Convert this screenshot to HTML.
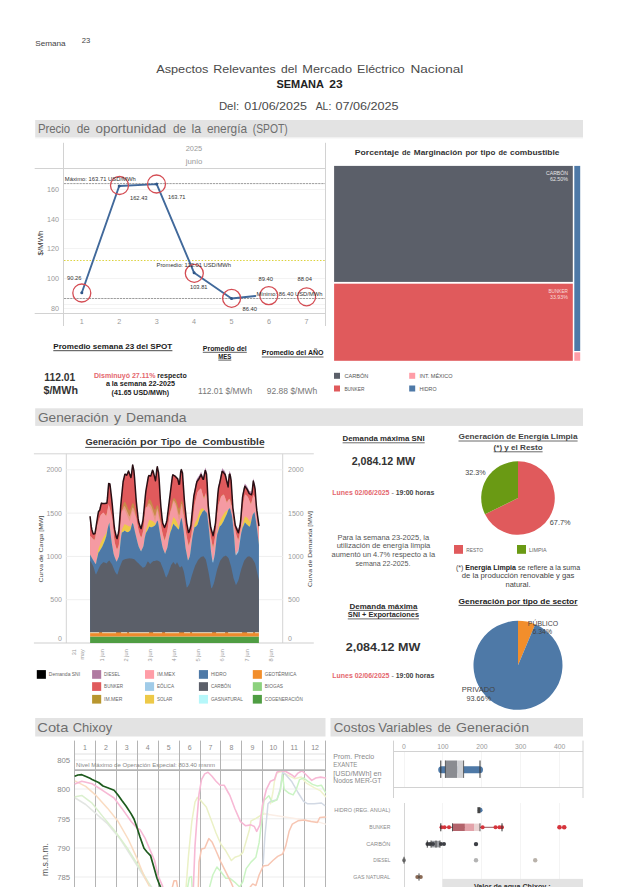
<!DOCTYPE html>
<html><head><meta charset="utf-8"><title>Semana 23</title>
<style>
html,body{margin:0;padding:0;background:#fff;}
body{width:618px;height:887px;overflow:hidden;font-family:"Liberation Sans", sans-serif;}
svg{display:block;font-family:"Liberation Sans", sans-serif;}
</style></head><body>
<svg width="618" height="887" viewBox="0 0 618 887">
<rect x="0" y="0" width="618" height="887" fill="#ffffff"/>
<text x="35.2" y="45.5" font-size="6.8" fill="#444" textLength="30.5" lengthAdjust="spacingAndGlyphs">Semana</text>
<text x="81.8" y="43.0" font-size="7" fill="#444" textLength="8.5" lengthAdjust="spacingAndGlyphs">23</text>
<text x="156.2" y="72.7" font-size="11.4" fill="#4a4a4a" textLength="52.3" lengthAdjust="spacingAndGlyphs">Aspectos</text>
<text x="213.2" y="72.7" font-size="11.4" fill="#4a4a4a" textLength="62.6" lengthAdjust="spacingAndGlyphs">Relevantes</text>
<text x="281.0" y="72.7" font-size="11.4" fill="#4a4a4a" textLength="16.1" lengthAdjust="spacingAndGlyphs">del</text>
<text x="302.3" y="72.7" font-size="11.4" fill="#4a4a4a" textLength="49.7" lengthAdjust="spacingAndGlyphs">Mercado</text>
<text x="357.1" y="72.7" font-size="11.4" fill="#4a4a4a" textLength="47.7" lengthAdjust="spacingAndGlyphs">Eléctrico</text>
<text x="410.5" y="72.7" font-size="11.4" fill="#4a4a4a" textLength="52.8" lengthAdjust="spacingAndGlyphs">Nacional</text>
<text x="276.4" y="88.0" font-size="11" fill="#222" font-weight="bold" textLength="47.6" lengthAdjust="spacingAndGlyphs">SEMANA</text>
<text x="329.2" y="88.0" font-size="11" fill="#222" font-weight="bold" textLength="13.4" lengthAdjust="spacingAndGlyphs">23</text>
<text x="218.9" y="110.0" font-size="11.4" fill="#4a4a4a" textLength="20.2" lengthAdjust="spacingAndGlyphs">Del:</text>
<text x="244.3" y="110.0" font-size="11.4" fill="#4a4a4a" textLength="62.6" lengthAdjust="spacingAndGlyphs">01/06/2025</text>
<text x="315.7" y="110.0" font-size="11.4" fill="#4a4a4a" textLength="15.6" lengthAdjust="spacingAndGlyphs">AL:</text>
<text x="335.4" y="110.0" font-size="11.4" fill="#4a4a4a" textLength="63.2" lengthAdjust="spacingAndGlyphs">07/06/2025</text>
<rect x="35.2" y="120.0" width="547.8" height="17.2" fill="#e3e3e3"/>
<rect x="35.2" y="137.2" width="547.8" height="1.2" fill="#efefef"/>
<text x="37.9" y="133.0" font-size="12.2" fill="#6e6e6e" textLength="32.3" lengthAdjust="spacingAndGlyphs">Precio</text>
<text x="76.7" y="133.0" font-size="12.2" fill="#6e6e6e" textLength="13.2" lengthAdjust="spacingAndGlyphs">de</text>
<text x="95.5" y="133.0" font-size="12.2" fill="#6e6e6e" textLength="70.8" lengthAdjust="spacingAndGlyphs">oportunidad</text>
<text x="172.9" y="133.0" font-size="12.2" fill="#6e6e6e" textLength="13.1" lengthAdjust="spacingAndGlyphs">de</text>
<text x="191.6" y="133.0" font-size="12.2" fill="#6e6e6e" textLength="9.7" lengthAdjust="spacingAndGlyphs">la</text>
<text x="206.9" y="133.0" font-size="12.2" fill="#6e6e6e" textLength="40.2" lengthAdjust="spacingAndGlyphs">energía</text>
<text x="252.8" y="133.0" font-size="12.2" fill="#6e6e6e" textLength="35.0" lengthAdjust="spacingAndGlyphs">(SPOT)</text>
<line x1="63.5" y1="142.8" x2="63.5" y2="326.0" stroke="#d2d2d2" stroke-width="1"/>
<line x1="325.5" y1="142.8" x2="325.5" y2="326.0" stroke="#d2d2d2" stroke-width="1"/>
<line x1="34.7" y1="168.5" x2="325.5" y2="168.5" stroke="#d2d2d2" stroke-width="1"/>
<line x1="34.7" y1="313.5" x2="325.5" y2="313.5" stroke="#d2d2d2" stroke-width="1"/>
<text x="194.0" y="151.0" font-size="6.6" fill="#9a9a9a" text-anchor="middle" textLength="16.5" lengthAdjust="spacingAndGlyphs">2025</text>
<text x="194.0" y="163.8" font-size="6.6" fill="#9a9a9a" text-anchor="middle" textLength="16.5" lengthAdjust="spacingAndGlyphs">junio</text>
<line x1="64.0" y1="189.5" x2="325.0" y2="189.5" stroke="#f3f3f3" stroke-width="1"/>
<text x="59.0" y="192.2" font-size="7.2" fill="#9a9a9a" text-anchor="end">160</text>
<line x1="64.0" y1="219.5" x2="325.0" y2="219.5" stroke="#f3f3f3" stroke-width="1"/>
<text x="59.0" y="221.8" font-size="7.2" fill="#9a9a9a" text-anchor="end">140</text>
<line x1="64.0" y1="248.5" x2="325.0" y2="248.5" stroke="#f3f3f3" stroke-width="1"/>
<text x="59.0" y="251.4" font-size="7.2" fill="#9a9a9a" text-anchor="end">120</text>
<line x1="64.0" y1="278.5" x2="325.0" y2="278.5" stroke="#f3f3f3" stroke-width="1"/>
<text x="59.0" y="281.0" font-size="7.2" fill="#9a9a9a" text-anchor="end">100</text>
<line x1="64.0" y1="308.5" x2="325.0" y2="308.5" stroke="#f3f3f3" stroke-width="1"/>
<text x="59.0" y="310.6" font-size="7.2" fill="#9a9a9a" text-anchor="end">80</text>
<line x1="64.0" y1="304.5" x2="325.0" y2="304.5" stroke="#f3f3f3" stroke-width="1"/>
<text x="0.0" y="0.0" font-size="7.8" fill="#333" text-anchor="middle" textLength="25.0" lengthAdjust="spacingAndGlyphs" transform="translate(43.3,243) rotate(-90)">$/MWh</text>
<text x="81.8" y="323.6" font-size="7.2" fill="#9a9a9a" text-anchor="middle">1</text>
<text x="119.2" y="323.6" font-size="7.2" fill="#9a9a9a" text-anchor="middle">2</text>
<text x="156.7" y="323.6" font-size="7.2" fill="#9a9a9a" text-anchor="middle">3</text>
<text x="194.1" y="323.6" font-size="7.2" fill="#9a9a9a" text-anchor="middle">4</text>
<text x="231.5" y="323.6" font-size="7.2" fill="#9a9a9a" text-anchor="middle">5</text>
<text x="268.9" y="323.6" font-size="7.2" fill="#9a9a9a" text-anchor="middle">6</text>
<text x="306.4" y="323.6" font-size="7.2" fill="#9a9a9a" text-anchor="middle">7</text>
<line x1="64.0" y1="183.6" x2="325.0" y2="183.6" stroke="#5a5a5a" stroke-width="0.6" stroke-dasharray="2.3,0.8"/>
<line x1="64.0" y1="298.5" x2="325.0" y2="298.5" stroke="#5a5a5a" stroke-width="0.6" stroke-dasharray="2.3,0.8"/>
<line x1="64.0" y1="260.5" x2="325.0" y2="260.5" stroke="#dcd23c" stroke-width="1.0" stroke-dasharray="1.5,1.7"/>
<polyline points="81.8,292.8 119.2,186.0 156.7,184.1 194.1,272.8 231.5,298.5 255.4,296.0" fill="none" stroke="#41699b" stroke-width="1.9" stroke-linejoin="round" stroke-linecap="round"/>
<circle cx="81.8" cy="292.8" r="1.5" fill="#2f5688"/>
<circle cx="119.2" cy="186.0" r="1.5" fill="#2f5688"/>
<circle cx="156.7" cy="184.1" r="1.5" fill="#2f5688"/>
<circle cx="194.1" cy="272.8" r="1.5" fill="#2f5688"/>
<circle cx="231.5" cy="298.5" r="1.5" fill="#2f5688"/>
<circle cx="81.8" cy="293.0" r="9" fill="none" stroke="#d44c53" stroke-width="1.3"/>
<circle cx="119.5" cy="185.5" r="9" fill="none" stroke="#d44c53" stroke-width="1.3"/>
<circle cx="156.5" cy="184.0" r="9" fill="none" stroke="#d44c53" stroke-width="1.3"/>
<circle cx="194.3" cy="273.3" r="9" fill="none" stroke="#d44c53" stroke-width="1.3"/>
<circle cx="231.6" cy="298.3" r="9" fill="none" stroke="#d44c53" stroke-width="1.3"/>
<circle cx="268.8" cy="295.6" r="9" fill="none" stroke="#d44c53" stroke-width="1.3"/>
<circle cx="306.6" cy="296.8" r="9" fill="none" stroke="#d44c53" stroke-width="1.3"/>
<text x="64.8" y="180.8" font-size="5.2" fill="#333" textLength="71.0" lengthAdjust="spacingAndGlyphs">Máximo: 163.71 USD/MWh</text>
<text x="156.5" y="267.3" font-size="5.2" fill="#333" textLength="74.5" lengthAdjust="spacingAndGlyphs">Promedio: 112.01 USD/MWh</text>
<text x="256.5" y="295.5" font-size="5.2" fill="#333" textLength="66.0" lengthAdjust="spacingAndGlyphs">Mínimo: 86.40 USD/MWh</text>
<text x="67.0" y="280.3" font-size="5.2" fill="#333" textLength="14.5" lengthAdjust="spacingAndGlyphs">90.26</text>
<text x="130.0" y="199.8" font-size="5.2" fill="#333" textLength="17.5" lengthAdjust="spacingAndGlyphs">162.43</text>
<text x="168.0" y="198.5" font-size="5.2" fill="#333" textLength="17.5" lengthAdjust="spacingAndGlyphs">163.71</text>
<text x="190.0" y="288.5" font-size="5.2" fill="#333" textLength="17.5" lengthAdjust="spacingAndGlyphs">103.81</text>
<text x="242.5" y="310.8" font-size="5.2" fill="#333" textLength="14.5" lengthAdjust="spacingAndGlyphs">86.40</text>
<text x="258.5" y="280.5" font-size="5.2" fill="#333" textLength="14.5" lengthAdjust="spacingAndGlyphs">89.40</text>
<text x="297.5" y="280.5" font-size="5.2" fill="#333" textLength="14.5" lengthAdjust="spacingAndGlyphs">88.04</text>
<text x="53.3" y="348.6" font-size="7.6" fill="#1a1a1a" font-weight="bold" textLength="119.0" lengthAdjust="spacingAndGlyphs">Promedio semana 23 del SPOT</text>
<line x1="53.3" y1="350.7" x2="172.4" y2="350.7" stroke="#1a1a1a" stroke-width="0.8"/>
<text x="59.8" y="381.0" font-size="10.4" fill="#333" text-anchor="middle" font-weight="bold" textLength="31.0" lengthAdjust="spacingAndGlyphs">112.01</text>
<text x="60.7" y="394.0" font-size="10.4" fill="#333" text-anchor="middle" font-weight="bold" textLength="34.5" lengthAdjust="spacingAndGlyphs">$/MWh</text>
<text x="94" y="378" font-size="6.3" font-weight="bold" textLength="92.7" lengthAdjust="spacingAndGlyphs"><tspan fill="#e4666d">Disminuyó 27.11%</tspan><tspan fill="#222"> respecto</tspan></text>
<text x="105.9" y="386.2" font-size="6.3" fill="#222" font-weight="bold" textLength="69.0" lengthAdjust="spacingAndGlyphs">a la semana 22-2025</text>
<text x="111.6" y="394.8" font-size="6.3" fill="#222" font-weight="bold" textLength="57.5" lengthAdjust="spacingAndGlyphs">(41.65 USD/MWh)</text>
<text x="224.8" y="350.7" font-size="6.6" fill="#1a1a1a" text-anchor="middle" font-weight="bold" textLength="44.0" lengthAdjust="spacingAndGlyphs">Promedio del</text>
<line x1="202.8" y1="352.3" x2="246.8" y2="352.3" stroke="#1a1a1a" stroke-width="0.7"/>
<text x="224.8" y="358.5" font-size="6.6" fill="#1a1a1a" text-anchor="middle" font-weight="bold" textLength="13.0" lengthAdjust="spacingAndGlyphs">MES</text>
<line x1="218.3" y1="360.1" x2="231.3" y2="360.1" stroke="#1a1a1a" stroke-width="0.7"/>
<text x="261.8" y="355.4" font-size="6.6" fill="#1a1a1a" font-weight="bold" textLength="61.7" lengthAdjust="spacingAndGlyphs">Promedio del AÑO</text>
<line x1="261.8" y1="357.0" x2="323.5" y2="357.0" stroke="#1a1a1a" stroke-width="0.7"/>
<text x="198.1" y="393.5" font-size="8.8" fill="#777" textLength="54.0" lengthAdjust="spacingAndGlyphs">112.01 $/MWh</text>
<text x="266.8" y="393.5" font-size="8.8" fill="#777" textLength="50.5" lengthAdjust="spacingAndGlyphs">92.88 $/MWh</text>
<text x="354.8" y="154.9" font-size="7.2" fill="#333" font-weight="bold" textLength="44.2" lengthAdjust="spacingAndGlyphs">Porcentaje</text>
<text x="402.1" y="154.9" font-size="7.2" fill="#333" font-weight="bold" textLength="8.6" lengthAdjust="spacingAndGlyphs">de</text>
<text x="413.8" y="154.9" font-size="7.2" fill="#333" font-weight="bold" textLength="48.5" lengthAdjust="spacingAndGlyphs">Marginación</text>
<text x="465.4" y="154.9" font-size="7.2" fill="#333" font-weight="bold" textLength="12.5" lengthAdjust="spacingAndGlyphs">por</text>
<text x="480.6" y="154.9" font-size="7.2" fill="#333" font-weight="bold" textLength="14.7" lengthAdjust="spacingAndGlyphs">tipo</text>
<text x="498.4" y="154.9" font-size="7.2" fill="#333" font-weight="bold" textLength="8.6" lengthAdjust="spacingAndGlyphs">de</text>
<text x="510.1" y="154.9" font-size="7.2" fill="#333" font-weight="bold" textLength="49.3" lengthAdjust="spacingAndGlyphs">combustible</text>
<rect x="334.1" y="165.9" width="238.7" height="116.0" fill="#5b5f69"/>
<rect x="334.1" y="283.7" width="238.7" height="77.1" fill="#e05a5c"/>
<rect x="574.3" y="165.9" width="5.9" height="185.1" fill="#4e79a7"/>
<rect x="574.3" y="352.3" width="5.9" height="8.5" fill="#ff9da7"/>
<text x="568.0" y="175.2" font-size="4.8" fill="#e6e6e6" text-anchor="end" textLength="22.0" lengthAdjust="spacingAndGlyphs">CARBÓN</text>
<text x="568.0" y="181.2" font-size="4.8" fill="#e6e6e6" text-anchor="end" textLength="18.0" lengthAdjust="spacingAndGlyphs">62.50%</text>
<text x="568.0" y="292.6" font-size="4.8" fill="#f9dada" text-anchor="end" textLength="19.5" lengthAdjust="spacingAndGlyphs">BUNKER</text>
<text x="568.0" y="298.9" font-size="4.8" fill="#f9dada" text-anchor="end" textLength="18.0" lengthAdjust="spacingAndGlyphs">33.93%</text>
<rect x="334.0" y="372.8" width="6.0" height="6.0" fill="#5b5f69"/>
<text x="344.4" y="378.0" font-size="5" fill="#555" textLength="24.0" lengthAdjust="spacingAndGlyphs">CARBÓN</text>
<rect x="334.0" y="385.5" width="6.0" height="6.0" fill="#e05a5c"/>
<text x="344.4" y="390.7" font-size="5" fill="#555" textLength="20.0" lengthAdjust="spacingAndGlyphs">BUNKER</text>
<rect x="409.2" y="372.8" width="6.0" height="6.0" fill="#ff9da7"/>
<text x="419.5" y="378.0" font-size="5" fill="#555" textLength="33.0" lengthAdjust="spacingAndGlyphs">INT. MÉXICO</text>
<rect x="409.2" y="385.5" width="6.0" height="6.0" fill="#4e79a7"/>
<text x="419.5" y="390.7" font-size="5" fill="#555" textLength="17.0" lengthAdjust="spacingAndGlyphs">HIDRO</text>
<rect x="35.2" y="408.3" width="547.8" height="17.6" fill="#e3e3e3"/>
<text x="37.9" y="422.0" font-size="12.2" fill="#6e6e6e" textLength="70.7" lengthAdjust="spacingAndGlyphs">Generación</text>
<text x="113.9" y="422.0" font-size="12.2" fill="#6e6e6e" textLength="7.0" lengthAdjust="spacingAndGlyphs">y</text>
<text x="126.1" y="422.0" font-size="12.2" fill="#6e6e6e" textLength="60.3" lengthAdjust="spacingAndGlyphs">Demanda</text>
<text x="85.5" y="445.3" font-size="9" fill="#333" font-weight="bold" textLength="51.1" lengthAdjust="spacingAndGlyphs">Generación</text>
<text x="140.1" y="445.3" font-size="9" fill="#333" font-weight="bold" textLength="17.5" lengthAdjust="spacingAndGlyphs">por</text>
<text x="161.1" y="445.3" font-size="9" fill="#333" font-weight="bold" textLength="19.6" lengthAdjust="spacingAndGlyphs">Tipo</text>
<text x="185.1" y="445.3" font-size="9" fill="#333" font-weight="bold" textLength="11.8" lengthAdjust="spacingAndGlyphs">de</text>
<text x="202.6" y="445.3" font-size="9" fill="#333" font-weight="bold" textLength="62.0" lengthAdjust="spacingAndGlyphs">Combustible</text>
<line x1="85.2" y1="447.4" x2="264.2" y2="447.4" stroke="#333" stroke-width="0.9"/>
<line x1="33.9" y1="453.8" x2="313.8" y2="453.8" stroke="#d4d4d4" stroke-width="1"/>
<line x1="66.3" y1="453.8" x2="66.3" y2="643.0" stroke="#d4d4d4" stroke-width="1"/>
<line x1="282.7" y1="453.8" x2="282.7" y2="643.0" stroke="#d4d4d4" stroke-width="1"/>
<line x1="33.9" y1="643.0" x2="313.8" y2="643.0" stroke="#cfcfcf" stroke-width="1"/>
<line x1="66.3" y1="599.7" x2="282.7" y2="599.7" stroke="#efefef" stroke-width="1"/>
<line x1="66.3" y1="556.4" x2="282.7" y2="556.4" stroke="#efefef" stroke-width="1"/>
<line x1="66.3" y1="513.1" x2="282.7" y2="513.1" stroke="#efefef" stroke-width="1"/>
<line x1="66.3" y1="469.8" x2="282.7" y2="469.8" stroke="#efefef" stroke-width="1"/>
<text x="62.0" y="472.4" font-size="7" fill="#9a9a9a" text-anchor="end">2000</text>
<text x="288.0" y="472.4" font-size="7" fill="#9a9a9a">2000</text>
<text x="62.0" y="515.7" font-size="7" fill="#9a9a9a" text-anchor="end">1500</text>
<text x="288.0" y="515.7" font-size="7" fill="#9a9a9a">1500</text>
<text x="62.0" y="559.0" font-size="7" fill="#9a9a9a" text-anchor="end">1000</text>
<text x="288.0" y="559.0" font-size="7" fill="#9a9a9a">1000</text>
<text x="62.0" y="602.3" font-size="7" fill="#9a9a9a" text-anchor="end">500</text>
<text x="288.0" y="602.3" font-size="7" fill="#9a9a9a">500</text>
<text x="62.0" y="641.0" font-size="7" fill="#9a9a9a" text-anchor="end">0</text>
<text x="288.0" y="641.0" font-size="7" fill="#9a9a9a">0</text>
<text x="0.0" y="0.0" font-size="6" fill="#444" text-anchor="middle" textLength="67.0" lengthAdjust="spacingAndGlyphs" transform="translate(43,549) rotate(-90)">Curva de Carga [MW]</text>
<text x="0.0" y="0.0" font-size="6" fill="#444" text-anchor="middle" textLength="76.0" lengthAdjust="spacingAndGlyphs" transform="translate(312,549) rotate(-90)">Curva de Demanda [MW]</text>
<polygon points="90.1,516.8 90.7,521.8 91.3,526.7 91.9,529.7 92.5,531.7 93.1,533.6 93.7,534.1 94.3,533.8 94.9,533.5 95.5,530.3 96.1,526.5 96.7,522.7 97.3,518.8 97.9,514.9 98.5,511.6 99.1,510.9 99.7,510.3 100.3,507.8 100.9,504.9 101.5,503.1 102.1,503.3 102.7,503.4 103.3,503.6 103.9,503.6 104.5,503.5 105.1,503.4 105.7,503.3 106.3,503.2 106.9,503.0 107.5,497.7 108.1,489.9 108.7,483.4 109.3,483.6 109.9,483.9 110.5,488.5 111.1,493.8 111.7,499.2 112.3,504.8 112.9,511.6 113.5,518.3 114.1,525.0 114.7,529.7 115.3,532.4 115.9,535.0 116.5,537.6 117.1,538.6 117.7,536.0 118.3,533.5 118.9,530.1 119.5,522.2 120.1,514.3 120.7,506.3 121.3,499.7 121.9,493.7 122.5,487.8 123.1,481.8 123.7,479.3 124.3,476.7 124.9,474.2 125.5,474.2 126.1,474.7 126.7,475.2 127.3,474.0 127.9,472.5 128.5,470.9 129.1,472.6 129.7,474.3 130.3,476.0 130.9,477.6 131.5,474.5 132.1,469.0 132.7,464.9 133.3,467.8 133.9,470.6 134.5,477.2 135.1,485.5 135.7,493.8 136.3,501.7 136.9,507.3 137.5,512.9 138.1,518.4 138.7,522.1 139.3,524.0 139.9,525.8 140.5,527.7 141.1,528.7 141.7,526.0 142.3,523.3 142.9,520.6 143.5,515.4 144.1,509.0 144.7,502.7 145.3,496.3 145.9,490.8 146.5,487.4 147.1,483.9 147.7,480.5 148.3,477.0 148.9,475.4 149.5,475.6 150.1,475.8 150.7,476.0 151.3,474.3 151.9,472.2 152.5,470.2 153.1,471.1 153.7,473.5 154.3,475.9 154.9,478.3 155.5,480.7 156.1,476.0 156.7,469.9 157.3,466.7 157.9,469.6 158.5,472.4 159.1,478.8 159.7,488.7 160.3,498.7 160.9,506.7 161.5,512.7 162.1,518.6 162.7,523.1 163.3,524.5 163.9,526.0 164.5,527.5 165.1,526.2 165.7,524.5 166.3,522.7 166.9,520.4 167.5,515.6 168.1,510.8 168.7,505.9 169.3,501.1 169.9,496.3 170.5,491.5 171.1,486.7 171.7,481.8 172.3,477.0 172.9,474.8 173.5,475.1 174.1,475.5 174.7,475.9 175.3,476.4 175.9,477.0 176.5,477.6 177.1,478.2 177.7,478.8 178.3,481.3 178.9,484.3 179.5,484.1 180.1,478.0 180.7,471.8 181.3,469.6 181.9,471.3 182.5,473.1 183.1,481.8 183.7,490.6 184.3,499.3 184.9,505.8 185.5,511.7 186.1,517.6 186.7,523.1 187.3,526.2 187.9,529.3 188.5,532.5 189.1,532.0 189.7,529.9 190.3,527.7 190.9,525.5 191.5,519.5 192.1,510.6 192.7,504.5 193.3,498.5 193.9,493.0 194.5,490.1 195.1,487.2 195.7,484.3 196.3,481.3 196.9,478.8 197.5,477.9 198.1,477.1 198.7,476.3 199.3,475.2 199.9,474.0 200.5,472.9 201.1,471.7 201.7,473.3 202.3,474.9 202.9,476.4 203.5,476.4 204.1,473.2 204.7,470.0 205.3,467.6 205.9,469.4 206.5,471.1 207.1,479.6 207.7,491.3 208.3,505.2 208.9,511.5 209.5,516.7 210.1,521.9 210.7,526.5 211.3,528.6 211.9,530.7 212.5,532.8 213.1,534.9 213.7,531.8 214.3,528.8 214.9,525.7 215.5,522.0 216.1,514.8 216.7,507.5 217.3,498.2 217.9,490.9 218.5,485.3 219.1,482.7 219.7,480.2 220.3,477.4 220.9,474.4 221.5,471.5 222.1,468.5 222.7,468.6 223.3,469.4 223.9,470.1 224.5,470.8 225.1,471.6 225.7,473.8 226.3,476.4 226.9,478.9 227.5,481.5 228.1,484.0 228.7,477.8 229.3,471.6 229.9,471.2 230.5,473.8 231.1,479.6 231.7,488.8 232.3,498.0 232.9,507.2 233.5,511.6 234.1,515.9 234.7,520.3 235.3,524.7 235.9,526.2 236.5,525.5 237.1,527.0 237.7,528.4 238.3,529.9 238.9,527.4 239.5,524.9 240.1,522.4 240.7,517.3 241.3,509.8 241.9,502.3 242.5,494.8 243.1,491.2 243.7,488.4 244.3,485.6 244.9,483.4 245.5,484.2 246.1,485.0 246.7,485.8 247.3,486.8 247.9,488.0 248.5,489.2 249.1,490.4 249.7,490.9 250.3,491.2 250.9,491.6 251.5,491.9 252.1,489.3 252.7,483.8 253.3,478.2 253.9,480.5 254.5,482.9 255.1,486.2 255.7,494.3 256.3,504.5 256.9,510.1 257.5,514.5 258.1,518.9 258.7,523.2 258.9,524.7 258.9,633.0 258.7,633.0 258.1,633.0 257.5,633.0 256.9,633.0 256.3,633.0 255.7,633.0 255.1,633.0 254.5,633.0 253.9,633.0 253.3,633.0 252.7,633.0 252.1,633.0 251.5,633.0 250.9,633.0 250.3,633.0 249.7,633.0 249.1,633.0 248.5,633.0 247.9,633.0 247.3,633.0 246.7,633.0 246.1,633.0 245.5,633.0 244.9,633.0 244.3,633.0 243.7,633.0 243.1,633.0 242.5,633.0 241.9,633.0 241.3,633.0 240.7,633.0 240.1,633.0 239.5,633.0 238.9,633.0 238.3,633.0 237.7,633.0 237.1,633.0 236.5,633.0 235.9,633.0 235.3,633.0 234.7,633.0 234.1,633.0 233.5,633.0 232.9,633.0 232.3,633.0 231.7,633.0 231.1,633.0 230.5,633.0 229.9,633.0 229.3,633.0 228.7,633.0 228.1,633.0 227.5,633.0 226.9,633.0 226.3,633.0 225.7,633.0 225.1,633.0 224.5,633.0 223.9,633.0 223.3,633.0 222.7,633.0 222.1,633.0 221.5,633.0 220.9,633.0 220.3,633.0 219.7,633.0 219.1,633.0 218.5,633.0 217.9,633.0 217.3,633.0 216.7,633.0 216.1,633.0 215.5,633.0 214.9,633.0 214.3,633.0 213.7,633.0 213.1,633.0 212.5,633.0 211.9,633.0 211.3,633.0 210.7,633.0 210.1,633.0 209.5,633.0 208.9,633.0 208.3,633.0 207.7,633.0 207.1,633.0 206.5,633.0 205.9,633.0 205.3,633.0 204.7,633.0 204.1,633.0 203.5,633.0 202.9,633.0 202.3,633.0 201.7,633.0 201.1,633.0 200.5,633.0 199.9,633.0 199.3,633.0 198.7,633.0 198.1,633.0 197.5,633.0 196.9,633.0 196.3,633.0 195.7,633.0 195.1,633.0 194.5,633.0 193.9,633.0 193.3,633.0 192.7,633.0 192.1,633.0 191.5,633.0 190.9,633.0 190.3,633.0 189.7,633.0 189.1,633.0 188.5,633.0 187.9,633.0 187.3,633.0 186.7,633.0 186.1,633.0 185.5,633.0 184.9,633.0 184.3,633.0 183.7,633.0 183.1,633.0 182.5,633.0 181.9,633.0 181.3,633.0 180.7,633.0 180.1,633.0 179.5,633.0 178.9,633.0 178.3,633.0 177.7,633.0 177.1,633.0 176.5,633.0 175.9,633.0 175.3,633.0 174.7,633.0 174.1,633.0 173.5,633.0 172.9,633.0 172.3,633.0 171.7,633.0 171.1,633.0 170.5,633.0 169.9,633.0 169.3,633.0 168.7,633.0 168.1,633.0 167.5,633.0 166.9,633.0 166.3,633.0 165.7,633.0 165.1,633.0 164.5,633.0 163.9,633.0 163.3,633.0 162.7,633.0 162.1,633.0 161.5,633.0 160.9,633.0 160.3,633.0 159.7,633.0 159.1,633.0 158.5,633.0 157.9,633.0 157.3,633.0 156.7,633.0 156.1,633.0 155.5,633.0 154.9,633.0 154.3,633.0 153.7,633.0 153.1,633.0 152.5,633.0 151.9,633.0 151.3,633.0 150.7,633.0 150.1,633.0 149.5,633.0 148.9,633.0 148.3,633.0 147.7,633.0 147.1,633.0 146.5,633.0 145.9,633.0 145.3,633.0 144.7,633.0 144.1,633.0 143.5,633.0 142.9,633.0 142.3,633.0 141.7,633.0 141.1,633.0 140.5,633.0 139.9,633.0 139.3,633.0 138.7,633.0 138.1,633.0 137.5,633.0 136.9,633.0 136.3,633.0 135.7,633.0 135.1,633.0 134.5,633.0 133.9,633.0 133.3,633.0 132.7,633.0 132.1,633.0 131.5,633.0 130.9,633.0 130.3,633.0 129.7,633.0 129.1,633.0 128.5,633.0 127.9,633.0 127.3,633.0 126.7,633.0 126.1,633.0 125.5,633.0 124.9,633.0 124.3,633.0 123.7,633.0 123.1,633.0 122.5,633.0 121.9,633.0 121.3,633.0 120.7,633.0 120.1,633.0 119.5,633.0 118.9,633.0 118.3,633.0 117.7,633.0 117.1,633.0 116.5,633.0 115.9,633.0 115.3,633.0 114.7,633.0 114.1,633.0 113.5,633.0 112.9,633.0 112.3,633.0 111.7,633.0 111.1,633.0 110.5,633.0 109.9,633.0 109.3,633.0 108.7,633.0 108.1,633.0 107.5,633.0 106.9,633.0 106.3,633.0 105.7,633.0 105.1,633.0 104.5,633.0 103.9,633.0 103.3,633.0 102.7,633.0 102.1,633.0 101.5,633.0 100.9,633.0 100.3,633.0 99.7,633.0 99.1,633.0 98.5,633.0 97.9,633.0 97.3,633.0 96.7,633.0 96.1,633.0 95.5,633.0 94.9,633.0 94.3,633.0 93.7,633.0 93.1,633.0 92.5,633.0 91.9,633.0 91.3,633.0 90.7,633.0 90.1,633.0" fill="#b98bb0"/>
<polygon points="90.1,516.8 90.7,521.8 91.3,526.7 91.9,529.7 92.5,531.7 93.1,533.6 93.7,534.1 94.3,533.8 94.9,533.5 95.5,530.3 96.1,526.5 96.7,522.7 97.3,518.8 97.9,514.9 98.5,511.6 99.1,510.9 99.7,510.3 100.3,507.8 100.9,504.9 101.5,503.1 102.1,503.3 102.7,503.4 103.3,503.6 103.9,503.6 104.5,503.5 105.1,503.4 105.7,503.3 106.3,503.2 106.9,503.0 107.5,497.7 108.1,489.9 108.7,483.4 109.3,483.6 109.9,483.9 110.5,488.5 111.1,493.8 111.7,499.2 112.3,504.8 112.9,511.6 113.5,518.3 114.1,525.0 114.7,529.7 115.3,532.4 115.9,535.0 116.5,537.6 117.1,538.6 117.7,536.0 118.3,533.5 118.9,530.1 119.5,522.2 120.1,514.3 120.7,506.3 121.3,499.7 121.9,493.7 122.5,487.8 123.1,481.8 123.7,479.3 124.3,476.7 124.9,474.2 125.5,474.2 126.1,474.7 126.7,475.2 127.3,474.0 127.9,472.5 128.5,470.9 129.1,472.6 129.7,474.3 130.3,476.0 130.9,477.6 131.5,474.5 132.1,469.0 132.7,464.9 133.3,467.8 133.9,470.6 134.5,477.2 135.1,485.5 135.7,493.8 136.3,501.7 136.9,507.3 137.5,512.9 138.1,518.4 138.7,522.1 139.3,524.0 139.9,525.8 140.5,527.7 141.1,528.7 141.7,526.0 142.3,523.3 142.9,520.6 143.5,515.4 144.1,509.0 144.7,502.7 145.3,496.3 145.9,490.8 146.5,487.4 147.1,483.9 147.7,480.5 148.3,477.0 148.9,475.4 149.5,475.6 150.1,475.8 150.7,476.0 151.3,474.3 151.9,472.2 152.5,470.2 153.1,471.1 153.7,473.5 154.3,475.9 154.9,478.3 155.5,480.7 156.1,476.0 156.7,469.9 157.3,466.7 157.9,469.6 158.5,472.4 159.1,478.8 159.7,488.7 160.3,498.7 160.9,506.7 161.5,512.7 162.1,518.6 162.7,523.1 163.3,524.5 163.9,526.0 164.5,527.5 165.1,526.2 165.7,524.5 166.3,522.7 166.9,520.4 167.5,515.6 168.1,510.8 168.7,505.9 169.3,501.1 169.9,496.3 170.5,491.5 171.1,486.7 171.7,481.8 172.3,477.0 172.9,474.8 173.5,475.1 174.1,475.5 174.7,475.9 175.3,476.4 175.9,477.0 176.5,477.6 177.1,478.2 177.7,478.8 178.3,481.3 178.9,484.3 179.5,484.1 180.1,478.0 180.7,471.8 181.3,469.6 181.9,471.3 182.5,473.1 183.1,481.8 183.7,490.6 184.3,499.3 184.9,505.8 185.5,511.7 186.1,517.6 186.7,523.1 187.3,526.2 187.9,529.3 188.5,532.5 189.1,532.0 189.7,529.9 190.3,527.7 190.9,525.5 191.5,519.5 192.1,513.5 192.7,507.4 193.3,501.4 193.9,495.9 194.5,493.0 195.1,490.1 195.7,487.2 196.3,484.2 196.9,481.7 197.5,480.8 198.1,480.0 198.7,479.2 199.3,478.1 199.9,476.9 200.5,475.8 201.1,474.6 201.7,476.2 202.3,477.8 202.9,479.3 203.5,479.3 204.1,476.1 204.7,472.9 205.3,470.5 205.9,472.3 206.5,474.0 207.1,482.5 207.7,494.2 208.3,506.0 208.9,512.3 209.5,517.5 210.1,522.7 210.7,527.3 211.3,529.4 211.9,531.5 212.5,533.6 213.1,535.7 213.7,532.6 214.3,529.6 214.9,526.5 215.5,522.8 216.1,515.6 216.7,508.3 217.3,501.1 217.9,493.8 218.5,488.2 219.1,485.6 219.7,483.1 220.3,480.3 220.9,477.3 221.5,474.4 222.1,471.4 222.7,471.5 223.3,472.3 223.9,473.0 224.5,473.7 225.1,474.5 225.7,476.7 226.3,479.3 226.9,481.8 227.5,484.4 228.1,486.9 228.7,480.7 229.3,474.5 229.9,474.1 230.5,476.7 231.1,480.4 231.7,489.6 232.3,498.8 232.9,508.0 233.5,512.4 234.1,516.7 234.7,521.1 235.3,525.5 235.9,527.0 236.5,528.4 237.1,529.9 237.7,531.3 238.3,532.8 238.9,530.3 239.5,527.8 240.1,525.3 240.7,520.2 241.3,512.7 241.9,505.2 242.5,497.7 243.1,494.1 243.7,491.3 244.3,488.5 244.9,486.3 245.5,487.1 246.1,487.9 246.7,488.7 247.3,489.7 247.9,490.9 248.5,492.1 249.1,493.3 249.7,493.8 250.3,494.1 250.9,494.5 251.5,494.8 252.1,492.2 252.7,486.7 253.3,481.1 253.9,483.4 254.5,485.8 255.1,489.1 255.7,497.2 256.3,505.3 256.9,510.9 257.5,515.3 258.1,519.7 258.7,524.0 258.9,525.5 258.9,633.0 258.7,633.0 258.1,633.0 257.5,633.0 256.9,633.0 256.3,633.0 255.7,633.0 255.1,633.0 254.5,633.0 253.9,633.0 253.3,633.0 252.7,633.0 252.1,633.0 251.5,633.0 250.9,633.0 250.3,633.0 249.7,633.0 249.1,633.0 248.5,633.0 247.9,633.0 247.3,633.0 246.7,633.0 246.1,633.0 245.5,633.0 244.9,633.0 244.3,633.0 243.7,633.0 243.1,633.0 242.5,633.0 241.9,633.0 241.3,633.0 240.7,633.0 240.1,633.0 239.5,633.0 238.9,633.0 238.3,633.0 237.7,633.0 237.1,633.0 236.5,633.0 235.9,633.0 235.3,633.0 234.7,633.0 234.1,633.0 233.5,633.0 232.9,633.0 232.3,633.0 231.7,633.0 231.1,633.0 230.5,633.0 229.9,633.0 229.3,633.0 228.7,633.0 228.1,633.0 227.5,633.0 226.9,633.0 226.3,633.0 225.7,633.0 225.1,633.0 224.5,633.0 223.9,633.0 223.3,633.0 222.7,633.0 222.1,633.0 221.5,633.0 220.9,633.0 220.3,633.0 219.7,633.0 219.1,633.0 218.5,633.0 217.9,633.0 217.3,633.0 216.7,633.0 216.1,633.0 215.5,633.0 214.9,633.0 214.3,633.0 213.7,633.0 213.1,633.0 212.5,633.0 211.9,633.0 211.3,633.0 210.7,633.0 210.1,633.0 209.5,633.0 208.9,633.0 208.3,633.0 207.7,633.0 207.1,633.0 206.5,633.0 205.9,633.0 205.3,633.0 204.7,633.0 204.1,633.0 203.5,633.0 202.9,633.0 202.3,633.0 201.7,633.0 201.1,633.0 200.5,633.0 199.9,633.0 199.3,633.0 198.7,633.0 198.1,633.0 197.5,633.0 196.9,633.0 196.3,633.0 195.7,633.0 195.1,633.0 194.5,633.0 193.9,633.0 193.3,633.0 192.7,633.0 192.1,633.0 191.5,633.0 190.9,633.0 190.3,633.0 189.7,633.0 189.1,633.0 188.5,633.0 187.9,633.0 187.3,633.0 186.7,633.0 186.1,633.0 185.5,633.0 184.9,633.0 184.3,633.0 183.7,633.0 183.1,633.0 182.5,633.0 181.9,633.0 181.3,633.0 180.7,633.0 180.1,633.0 179.5,633.0 178.9,633.0 178.3,633.0 177.7,633.0 177.1,633.0 176.5,633.0 175.9,633.0 175.3,633.0 174.7,633.0 174.1,633.0 173.5,633.0 172.9,633.0 172.3,633.0 171.7,633.0 171.1,633.0 170.5,633.0 169.9,633.0 169.3,633.0 168.7,633.0 168.1,633.0 167.5,633.0 166.9,633.0 166.3,633.0 165.7,633.0 165.1,633.0 164.5,633.0 163.9,633.0 163.3,633.0 162.7,633.0 162.1,633.0 161.5,633.0 160.9,633.0 160.3,633.0 159.7,633.0 159.1,633.0 158.5,633.0 157.9,633.0 157.3,633.0 156.7,633.0 156.1,633.0 155.5,633.0 154.9,633.0 154.3,633.0 153.7,633.0 153.1,633.0 152.5,633.0 151.9,633.0 151.3,633.0 150.7,633.0 150.1,633.0 149.5,633.0 148.9,633.0 148.3,633.0 147.7,633.0 147.1,633.0 146.5,633.0 145.9,633.0 145.3,633.0 144.7,633.0 144.1,633.0 143.5,633.0 142.9,633.0 142.3,633.0 141.7,633.0 141.1,633.0 140.5,633.0 139.9,633.0 139.3,633.0 138.7,633.0 138.1,633.0 137.5,633.0 136.9,633.0 136.3,633.0 135.7,633.0 135.1,633.0 134.5,633.0 133.9,633.0 133.3,633.0 132.7,633.0 132.1,633.0 131.5,633.0 130.9,633.0 130.3,633.0 129.7,633.0 129.1,633.0 128.5,633.0 127.9,633.0 127.3,633.0 126.7,633.0 126.1,633.0 125.5,633.0 124.9,633.0 124.3,633.0 123.7,633.0 123.1,633.0 122.5,633.0 121.9,633.0 121.3,633.0 120.7,633.0 120.1,633.0 119.5,633.0 118.9,633.0 118.3,633.0 117.7,633.0 117.1,633.0 116.5,633.0 115.9,633.0 115.3,633.0 114.7,633.0 114.1,633.0 113.5,633.0 112.9,633.0 112.3,633.0 111.7,633.0 111.1,633.0 110.5,633.0 109.9,633.0 109.3,633.0 108.7,633.0 108.1,633.0 107.5,633.0 106.9,633.0 106.3,633.0 105.7,633.0 105.1,633.0 104.5,633.0 103.9,633.0 103.3,633.0 102.7,633.0 102.1,633.0 101.5,633.0 100.9,633.0 100.3,633.0 99.7,633.0 99.1,633.0 98.5,633.0 97.9,633.0 97.3,633.0 96.7,633.0 96.1,633.0 95.5,633.0 94.9,633.0 94.3,633.0 93.7,633.0 93.1,633.0 92.5,633.0 91.9,633.0 91.3,633.0 90.7,633.0 90.1,633.0" fill="#e05a5c"/>
<polygon points="90.1,535.7 90.7,536.4 91.3,537.0 91.9,537.7 92.5,538.4 93.1,539.0 93.7,539.4 94.3,539.0 94.9,537.7 95.5,535.6 96.1,532.7 96.7,529.4 97.3,526.4 97.9,523.8 98.5,521.5 99.1,519.5 99.7,517.8 100.3,516.4 100.9,515.2 101.5,514.3 102.1,513.7 102.7,513.3 103.3,513.3 103.9,513.5 104.5,514.0 105.1,514.8 105.7,515.0 106.3,514.3 106.9,512.6 107.5,510.3 108.1,508.1 108.7,506.6 109.3,506.7 109.9,508.1 110.5,510.4 111.1,513.1 111.7,516.9 112.3,521.2 112.9,526.1 113.5,531.5 114.1,536.6 114.7,540.8 115.3,544.2 115.9,546.5 116.5,547.7 117.1,548.1 117.7,547.8 118.3,546.0 118.9,542.4 119.5,537.2 120.1,530.8 120.7,523.8 121.3,517.7 121.9,512.3 122.5,508.2 123.1,505.3 123.7,503.5 124.3,502.1 124.9,502.0 125.5,502.6 126.1,504.0 126.7,505.3 127.3,506.7 127.9,508.2 128.5,509.6 129.1,510.3 129.7,510.2 130.3,509.4 130.9,507.8 131.5,505.6 132.1,504.1 132.7,503.3 133.3,503.2 133.9,504.2 134.5,507.1 135.1,510.2 135.7,513.8 136.3,517.8 136.9,521.8 137.5,524.8 138.1,527.8 138.7,530.4 139.3,532.7 139.9,534.7 140.5,536.0 141.1,536.2 141.7,535.7 142.3,534.4 142.9,531.3 143.5,527.0 144.1,522.2 144.7,517.1 145.3,512.6 145.9,509.3 146.5,506.7 147.1,504.6 147.7,502.9 148.3,501.1 148.9,499.7 149.5,499.1 150.1,499.4 150.7,500.2 151.3,501.3 151.9,502.8 152.5,504.4 153.1,506.2 153.7,508.1 154.3,509.5 154.9,509.8 155.5,509.1 156.1,507.3 156.7,505.8 157.3,505.1 157.9,505.7 158.5,507.1 159.1,511.1 159.7,515.1 160.3,519.3 160.9,523.5 161.5,527.9 162.1,531.0 162.7,533.8 163.3,536.3 163.9,537.9 164.5,538.5 165.1,538.2 165.7,536.9 166.3,534.7 166.9,531.9 167.5,528.7 168.1,525.2 168.7,521.6 169.3,517.9 169.9,514.5 170.5,511.2 171.1,507.7 171.7,504.4 172.3,501.6 172.9,499.4 173.5,498.3 174.1,498.1 174.7,498.6 175.3,499.2 175.9,500.1 176.5,501.6 177.1,503.5 177.7,505.7 178.3,507.8 178.9,508.7 179.5,507.9 180.1,505.6 180.7,503.0 181.3,501.1 181.9,500.7 182.5,502.9 183.1,507.3 183.7,512.5 184.3,518.2 184.9,523.8 185.5,528.5 186.1,532.6 186.7,536.4 187.3,539.6 187.9,542.0 188.5,543.2 189.1,543.4 189.7,542.3 190.3,540.1 190.9,536.9 191.5,532.9 192.1,528.3 192.7,523.0 193.3,517.0 193.9,511.7 194.5,507.0 195.1,503.1 195.7,499.8 196.3,497.2 196.9,495.0 197.5,493.1 198.1,491.7 198.7,490.6 199.3,489.9 199.9,489.4 200.5,489.4 201.1,490.0 201.7,491.3 202.3,493.2 202.9,495.2 203.5,496.0 204.1,495.9 204.7,495.3 205.3,494.9 205.9,495.9 206.5,498.6 207.1,503.1 207.7,508.6 208.3,514.6 208.9,520.3 209.5,525.8 210.1,530.7 210.7,535.2 211.3,539.2 211.9,542.8 212.5,544.5 213.1,545.0 213.7,544.1 214.3,541.8 214.9,537.6 215.5,532.8 216.1,527.3 216.7,521.6 217.3,515.6 217.9,510.5 218.5,506.6 219.1,503.6 219.7,501.0 220.3,499.3 220.9,497.5 221.5,495.9 222.1,494.9 222.7,494.5 223.3,494.4 223.9,495.0 224.5,496.0 225.1,497.4 225.7,499.1 226.3,500.3 226.9,500.9 227.5,501.2 228.1,500.3 228.7,499.0 229.3,498.4 229.9,499.0 230.5,500.2 231.1,502.7 231.7,506.2 232.3,510.3 232.9,514.5 233.5,518.6 234.1,522.8 234.7,526.7 235.3,529.8 235.9,532.6 236.5,535.1 237.1,537.3 237.7,538.2 238.3,538.2 238.9,537.2 239.5,535.1 240.1,531.5 240.7,527.2 241.3,522.1 241.9,516.6 242.5,511.0 243.1,506.0 243.7,501.6 244.3,498.5 244.9,496.6 245.5,495.5 246.1,495.2 246.7,495.7 247.3,496.5 247.9,497.4 248.5,498.6 249.1,500.0 249.7,501.5 250.3,502.4 250.9,502.5 251.5,501.7 252.1,500.0 252.7,498.1 253.3,497.0 253.9,496.7 254.5,497.6 255.1,500.2 255.7,504.0 256.3,508.5 256.9,513.7 257.5,519.3 258.1,524.1 258.7,530.2 258.9,532.0 258.9,633.0 258.7,633.0 258.1,633.0 257.5,633.0 256.9,633.0 256.3,633.0 255.7,633.0 255.1,633.0 254.5,633.0 253.9,633.0 253.3,633.0 252.7,633.0 252.1,633.0 251.5,633.0 250.9,633.0 250.3,633.0 249.7,633.0 249.1,633.0 248.5,633.0 247.9,633.0 247.3,633.0 246.7,633.0 246.1,633.0 245.5,633.0 244.9,633.0 244.3,633.0 243.7,633.0 243.1,633.0 242.5,633.0 241.9,633.0 241.3,633.0 240.7,633.0 240.1,633.0 239.5,633.0 238.9,633.0 238.3,633.0 237.7,633.0 237.1,633.0 236.5,633.0 235.9,633.0 235.3,633.0 234.7,633.0 234.1,633.0 233.5,633.0 232.9,633.0 232.3,633.0 231.7,633.0 231.1,633.0 230.5,633.0 229.9,633.0 229.3,633.0 228.7,633.0 228.1,633.0 227.5,633.0 226.9,633.0 226.3,633.0 225.7,633.0 225.1,633.0 224.5,633.0 223.9,633.0 223.3,633.0 222.7,633.0 222.1,633.0 221.5,633.0 220.9,633.0 220.3,633.0 219.7,633.0 219.1,633.0 218.5,633.0 217.9,633.0 217.3,633.0 216.7,633.0 216.1,633.0 215.5,633.0 214.9,633.0 214.3,633.0 213.7,633.0 213.1,633.0 212.5,633.0 211.9,633.0 211.3,633.0 210.7,633.0 210.1,633.0 209.5,633.0 208.9,633.0 208.3,633.0 207.7,633.0 207.1,633.0 206.5,633.0 205.9,633.0 205.3,633.0 204.7,633.0 204.1,633.0 203.5,633.0 202.9,633.0 202.3,633.0 201.7,633.0 201.1,633.0 200.5,633.0 199.9,633.0 199.3,633.0 198.7,633.0 198.1,633.0 197.5,633.0 196.9,633.0 196.3,633.0 195.7,633.0 195.1,633.0 194.5,633.0 193.9,633.0 193.3,633.0 192.7,633.0 192.1,633.0 191.5,633.0 190.9,633.0 190.3,633.0 189.7,633.0 189.1,633.0 188.5,633.0 187.9,633.0 187.3,633.0 186.7,633.0 186.1,633.0 185.5,633.0 184.9,633.0 184.3,633.0 183.7,633.0 183.1,633.0 182.5,633.0 181.9,633.0 181.3,633.0 180.7,633.0 180.1,633.0 179.5,633.0 178.9,633.0 178.3,633.0 177.7,633.0 177.1,633.0 176.5,633.0 175.9,633.0 175.3,633.0 174.7,633.0 174.1,633.0 173.5,633.0 172.9,633.0 172.3,633.0 171.7,633.0 171.1,633.0 170.5,633.0 169.9,633.0 169.3,633.0 168.7,633.0 168.1,633.0 167.5,633.0 166.9,633.0 166.3,633.0 165.7,633.0 165.1,633.0 164.5,633.0 163.9,633.0 163.3,633.0 162.7,633.0 162.1,633.0 161.5,633.0 160.9,633.0 160.3,633.0 159.7,633.0 159.1,633.0 158.5,633.0 157.9,633.0 157.3,633.0 156.7,633.0 156.1,633.0 155.5,633.0 154.9,633.0 154.3,633.0 153.7,633.0 153.1,633.0 152.5,633.0 151.9,633.0 151.3,633.0 150.7,633.0 150.1,633.0 149.5,633.0 148.9,633.0 148.3,633.0 147.7,633.0 147.1,633.0 146.5,633.0 145.9,633.0 145.3,633.0 144.7,633.0 144.1,633.0 143.5,633.0 142.9,633.0 142.3,633.0 141.7,633.0 141.1,633.0 140.5,633.0 139.9,633.0 139.3,633.0 138.7,633.0 138.1,633.0 137.5,633.0 136.9,633.0 136.3,633.0 135.7,633.0 135.1,633.0 134.5,633.0 133.9,633.0 133.3,633.0 132.7,633.0 132.1,633.0 131.5,633.0 130.9,633.0 130.3,633.0 129.7,633.0 129.1,633.0 128.5,633.0 127.9,633.0 127.3,633.0 126.7,633.0 126.1,633.0 125.5,633.0 124.9,633.0 124.3,633.0 123.7,633.0 123.1,633.0 122.5,633.0 121.9,633.0 121.3,633.0 120.7,633.0 120.1,633.0 119.5,633.0 118.9,633.0 118.3,633.0 117.7,633.0 117.1,633.0 116.5,633.0 115.9,633.0 115.3,633.0 114.7,633.0 114.1,633.0 113.5,633.0 112.9,633.0 112.3,633.0 111.7,633.0 111.1,633.0 110.5,633.0 109.9,633.0 109.3,633.0 108.7,633.0 108.1,633.0 107.5,633.0 106.9,633.0 106.3,633.0 105.7,633.0 105.1,633.0 104.5,633.0 103.9,633.0 103.3,633.0 102.7,633.0 102.1,633.0 101.5,633.0 100.9,633.0 100.3,633.0 99.7,633.0 99.1,633.0 98.5,633.0 97.9,633.0 97.3,633.0 96.7,633.0 96.1,633.0 95.5,633.0 94.9,633.0 94.3,633.0 93.7,633.0 93.1,633.0 92.5,633.0 91.9,633.0 91.3,633.0 90.7,633.0 90.1,633.0" fill="#c98a4a"/>
<polygon points="90.1,535.7 90.7,536.4 91.3,537.0 91.9,537.7 92.5,538.4 93.1,539.0 93.7,539.6 94.3,539.7 94.9,538.8 95.5,535.9 96.1,532.7 96.7,529.3 97.3,526.0 97.9,523.4 98.5,521.4 99.1,519.5 99.7,517.8 100.3,516.1 100.9,515.0 101.5,514.2 102.1,513.7 102.7,513.2 103.3,512.9 103.9,513.2 104.5,514.0 105.1,514.8 105.7,515.4 106.3,515.6 106.9,513.3 107.5,510.3 108.1,507.3 108.7,505.2 109.3,506.6 109.9,508.5 110.5,510.9 111.1,513.4 111.7,516.4 112.3,520.0 112.9,525.8 113.5,531.7 114.1,537.5 114.7,541.8 115.3,544.5 115.9,546.7 116.5,548.3 117.1,549.0 117.7,548.1 118.3,546.4 118.9,544.0 119.5,538.8 120.1,531.1 120.7,523.1 121.3,516.0 121.9,511.2 122.5,509.6 123.1,508.4 123.7,506.8 124.3,505.9 124.9,506.5 125.5,507.6 126.1,508.9 126.7,510.3 127.3,511.7 127.9,513.1 128.5,514.6 129.1,515.7 129.7,516.4 130.3,514.8 130.9,512.8 131.5,510.5 132.1,508.5 132.7,507.2 133.3,507.8 133.9,508.9 134.5,510.8 135.1,513.0 135.7,515.4 136.3,518.0 136.9,521.9 137.5,524.9 138.1,527.9 138.7,530.7 139.3,533.0 139.9,534.8 140.5,536.3 141.1,537.2 141.7,536.4 142.3,534.5 142.9,531.8 143.5,528.6 144.1,522.5 144.7,516.3 145.3,511.3 145.9,508.0 146.5,507.0 147.1,506.2 147.7,505.2 148.3,503.9 148.9,503.3 149.5,503.5 150.1,504.2 150.7,505.0 151.3,506.1 151.9,507.5 152.5,509.3 153.1,511.2 153.7,513.0 154.3,514.7 154.9,515.9 155.5,515.2 156.1,512.5 156.7,510.0 157.3,507.9 157.9,509.9 158.5,512.3 159.1,515.8 159.7,518.3 160.3,520.6 160.9,524.1 161.5,528.3 162.1,531.3 162.7,533.9 163.3,536.3 163.9,538.3 164.5,539.9 165.1,538.9 165.7,537.0 166.3,534.7 166.9,532.1 167.5,529.4 168.1,525.4 168.7,521.3 169.3,517.4 169.9,514.4 170.5,511.3 171.1,509.1 171.7,507.0 172.3,504.3 172.9,501.8 173.5,500.2 174.1,500.7 174.7,501.6 175.3,502.5 175.9,503.5 176.5,505.6 177.1,508.1 177.7,510.7 178.3,513.2 178.9,514.8 179.5,514.7 180.1,511.3 180.7,507.4 181.3,503.9 181.9,504.1 182.5,507.1 183.1,511.0 183.7,514.3 184.3,518.6 184.9,523.9 185.5,529.3 186.1,532.9 186.7,536.4 187.3,539.6 187.9,542.4 188.5,544.7 189.1,544.4 189.7,542.5 190.3,540.1 190.9,537.3 191.5,534.1 192.1,528.7 192.7,523.0 193.3,517.0 193.9,511.3 194.5,505.9 195.1,502.7 195.7,499.8 196.3,497.2 196.9,494.8 197.5,492.5 198.1,491.5 198.7,490.6 199.3,489.9 199.9,489.3 200.5,488.9 201.1,489.1 201.7,491.0 202.3,493.2 202.9,495.4 203.5,497.1 204.1,498.0 204.7,496.3 205.3,494.9 205.9,494.0 206.5,497.7 207.1,503.0 207.7,508.8 208.3,514.7 208.9,520.3 209.5,525.8 210.1,531.1 210.7,535.9 211.3,539.5 211.9,542.8 212.5,545.3 213.1,547.2 213.7,544.8 214.3,541.8 214.9,537.9 215.5,533.8 216.1,527.8 216.7,521.3 217.3,514.9 217.9,510.1 218.5,505.4 219.1,503.2 219.7,501.2 220.3,499.3 220.9,497.2 221.5,496.1 222.1,495.4 222.7,495.0 223.3,494.7 223.9,494.8 224.5,496.0 225.1,497.6 225.7,499.4 226.3,500.9 226.9,502.2 227.5,501.5 228.1,500.0 228.7,499.6 229.3,498.7 229.9,499.6 230.5,501.5 231.1,503.9 231.7,506.1 232.3,509.6 232.9,514.2 233.5,519.4 234.1,523.1 234.7,526.7 235.3,530.0 235.9,533.1 236.5,535.3 237.1,537.3 237.7,538.8 238.3,539.7 238.9,537.7 239.5,535.2 240.1,532.0 240.7,528.1 241.3,522.5 241.9,516.5 242.5,510.6 243.1,505.2 243.7,501.4 244.3,498.1 244.9,495.5 245.5,495.0 246.1,495.2 246.7,495.7 247.3,496.4 247.9,497.1 248.5,498.5 249.1,499.9 249.7,501.5 250.3,502.8 250.9,503.7 251.5,502.3 252.1,500.1 252.7,497.8 253.3,495.8 253.9,495.9 254.5,497.3 255.1,499.4 255.7,502.9 256.3,508.2 256.9,513.8 257.5,519.4 258.1,524.5 258.7,530.2 258.9,532.0 258.9,633.0 258.7,633.0 258.1,633.0 257.5,633.0 256.9,633.0 256.3,633.0 255.7,633.0 255.1,633.0 254.5,633.0 253.9,633.0 253.3,633.0 252.7,633.0 252.1,633.0 251.5,633.0 250.9,633.0 250.3,633.0 249.7,633.0 249.1,633.0 248.5,633.0 247.9,633.0 247.3,633.0 246.7,633.0 246.1,633.0 245.5,633.0 244.9,633.0 244.3,633.0 243.7,633.0 243.1,633.0 242.5,633.0 241.9,633.0 241.3,633.0 240.7,633.0 240.1,633.0 239.5,633.0 238.9,633.0 238.3,633.0 237.7,633.0 237.1,633.0 236.5,633.0 235.9,633.0 235.3,633.0 234.7,633.0 234.1,633.0 233.5,633.0 232.9,633.0 232.3,633.0 231.7,633.0 231.1,633.0 230.5,633.0 229.9,633.0 229.3,633.0 228.7,633.0 228.1,633.0 227.5,633.0 226.9,633.0 226.3,633.0 225.7,633.0 225.1,633.0 224.5,633.0 223.9,633.0 223.3,633.0 222.7,633.0 222.1,633.0 221.5,633.0 220.9,633.0 220.3,633.0 219.7,633.0 219.1,633.0 218.5,633.0 217.9,633.0 217.3,633.0 216.7,633.0 216.1,633.0 215.5,633.0 214.9,633.0 214.3,633.0 213.7,633.0 213.1,633.0 212.5,633.0 211.9,633.0 211.3,633.0 210.7,633.0 210.1,633.0 209.5,633.0 208.9,633.0 208.3,633.0 207.7,633.0 207.1,633.0 206.5,633.0 205.9,633.0 205.3,633.0 204.7,633.0 204.1,633.0 203.5,633.0 202.9,633.0 202.3,633.0 201.7,633.0 201.1,633.0 200.5,633.0 199.9,633.0 199.3,633.0 198.7,633.0 198.1,633.0 197.5,633.0 196.9,633.0 196.3,633.0 195.7,633.0 195.1,633.0 194.5,633.0 193.9,633.0 193.3,633.0 192.7,633.0 192.1,633.0 191.5,633.0 190.9,633.0 190.3,633.0 189.7,633.0 189.1,633.0 188.5,633.0 187.9,633.0 187.3,633.0 186.7,633.0 186.1,633.0 185.5,633.0 184.9,633.0 184.3,633.0 183.7,633.0 183.1,633.0 182.5,633.0 181.9,633.0 181.3,633.0 180.7,633.0 180.1,633.0 179.5,633.0 178.9,633.0 178.3,633.0 177.7,633.0 177.1,633.0 176.5,633.0 175.9,633.0 175.3,633.0 174.7,633.0 174.1,633.0 173.5,633.0 172.9,633.0 172.3,633.0 171.7,633.0 171.1,633.0 170.5,633.0 169.9,633.0 169.3,633.0 168.7,633.0 168.1,633.0 167.5,633.0 166.9,633.0 166.3,633.0 165.7,633.0 165.1,633.0 164.5,633.0 163.9,633.0 163.3,633.0 162.7,633.0 162.1,633.0 161.5,633.0 160.9,633.0 160.3,633.0 159.7,633.0 159.1,633.0 158.5,633.0 157.9,633.0 157.3,633.0 156.7,633.0 156.1,633.0 155.5,633.0 154.9,633.0 154.3,633.0 153.7,633.0 153.1,633.0 152.5,633.0 151.9,633.0 151.3,633.0 150.7,633.0 150.1,633.0 149.5,633.0 148.9,633.0 148.3,633.0 147.7,633.0 147.1,633.0 146.5,633.0 145.9,633.0 145.3,633.0 144.7,633.0 144.1,633.0 143.5,633.0 142.9,633.0 142.3,633.0 141.7,633.0 141.1,633.0 140.5,633.0 139.9,633.0 139.3,633.0 138.7,633.0 138.1,633.0 137.5,633.0 136.9,633.0 136.3,633.0 135.7,633.0 135.1,633.0 134.5,633.0 133.9,633.0 133.3,633.0 132.7,633.0 132.1,633.0 131.5,633.0 130.9,633.0 130.3,633.0 129.7,633.0 129.1,633.0 128.5,633.0 127.9,633.0 127.3,633.0 126.7,633.0 126.1,633.0 125.5,633.0 124.9,633.0 124.3,633.0 123.7,633.0 123.1,633.0 122.5,633.0 121.9,633.0 121.3,633.0 120.7,633.0 120.1,633.0 119.5,633.0 118.9,633.0 118.3,633.0 117.7,633.0 117.1,633.0 116.5,633.0 115.9,633.0 115.3,633.0 114.7,633.0 114.1,633.0 113.5,633.0 112.9,633.0 112.3,633.0 111.7,633.0 111.1,633.0 110.5,633.0 109.9,633.0 109.3,633.0 108.7,633.0 108.1,633.0 107.5,633.0 106.9,633.0 106.3,633.0 105.7,633.0 105.1,633.0 104.5,633.0 103.9,633.0 103.3,633.0 102.7,633.0 102.1,633.0 101.5,633.0 100.9,633.0 100.3,633.0 99.7,633.0 99.1,633.0 98.5,633.0 97.9,633.0 97.3,633.0 96.7,633.0 96.1,633.0 95.5,633.0 94.9,633.0 94.3,633.0 93.7,633.0 93.1,633.0 92.5,633.0 91.9,633.0 91.3,633.0 90.7,633.0 90.1,633.0" fill="#e79a84"/>
<polygon points="90.1,535.7 90.7,536.4 91.3,537.0 91.9,537.7 92.5,538.4 93.1,539.0 93.7,539.7 94.3,540.4 94.9,539.6 95.5,536.2 96.1,532.7 96.7,529.2 97.3,525.7 97.9,523.1 98.5,521.3 99.1,519.5 99.7,517.7 100.3,515.9 100.9,514.7 101.5,514.2 102.1,513.7 102.7,513.1 103.3,512.6 103.9,513.0 104.5,513.9 105.1,514.8 105.7,515.7 106.3,516.6 106.9,513.8 107.5,510.2 108.1,506.7 108.7,504.1 109.3,506.5 109.9,508.9 110.5,511.2 111.1,513.6 111.7,516.0 112.3,519.1 112.9,525.5 113.5,531.9 114.1,538.3 114.7,542.6 115.3,544.7 115.9,546.8 116.5,548.9 117.1,549.8 117.7,548.3 118.3,546.8 118.9,545.3 119.5,540.1 120.1,531.4 120.7,522.6 121.3,514.6 121.9,510.2 122.5,510.6 123.1,511.0 123.7,509.5 124.3,508.9 124.9,510.3 125.5,511.6 126.1,512.9 126.7,514.3 127.3,515.7 127.9,517.2 128.5,518.6 129.1,520.1 129.7,521.5 130.3,519.2 130.9,516.8 131.5,514.5 132.1,512.1 132.7,510.4 133.3,511.6 133.9,512.7 134.5,513.9 135.1,515.4 135.7,516.6 136.3,518.0 136.9,521.9 137.5,525.0 138.1,527.9 138.7,530.9 139.3,533.3 139.9,534.9 140.5,536.5 141.1,538.1 141.7,537.0 142.3,534.6 142.9,532.3 143.5,529.9 144.1,522.8 144.7,515.6 145.3,510.3 145.9,507.0 146.5,507.2 147.1,507.4 147.7,507.2 148.3,506.3 148.9,506.3 149.5,507.2 150.1,508.1 150.7,509.0 151.3,509.9 151.9,511.5 152.5,513.3 153.1,515.2 153.7,517.1 154.3,519.0 154.9,520.9 155.5,520.1 156.1,516.8 156.7,513.5 157.3,510.2 157.9,513.4 158.5,516.5 159.1,519.7 159.7,520.9 160.3,521.7 160.9,524.6 161.5,528.6 162.1,531.5 162.7,533.9 163.3,536.3 163.9,538.7 164.5,541.1 165.1,539.5 165.7,537.1 166.3,534.7 166.9,532.3 167.5,529.9 168.1,525.5 168.7,521.1 169.3,517.0 169.9,514.2 170.5,511.4 171.1,510.3 171.7,509.1 172.3,506.4 172.9,503.7 173.5,501.7 174.1,502.8 174.7,504.0 175.3,505.2 175.9,506.3 176.5,508.9 177.1,511.8 177.7,514.7 178.3,517.7 178.9,519.8 179.5,520.2 180.1,516.0 180.7,511.0 181.3,506.1 181.9,506.9 182.5,510.5 183.1,514.1 183.7,515.7 184.3,518.9 184.9,524.0 185.5,530.0 186.1,533.2 186.7,536.4 187.3,539.6 187.9,542.7 188.5,545.9 189.1,545.3 189.7,542.7 190.3,540.1 190.9,537.6 191.5,535.0 192.1,529.0 192.7,523.0 193.3,517.0 193.9,511.0 194.5,505.0 195.1,502.4 195.7,499.8 196.3,497.2 196.9,494.6 197.5,492.0 198.1,491.3 198.7,490.6 199.3,489.9 199.9,489.3 200.5,488.6 201.1,488.4 201.7,490.8 202.3,493.2 202.9,495.6 203.5,498.0 204.1,499.6 204.7,497.2 205.3,494.8 205.9,492.4 206.5,497.0 207.1,503.0 207.7,509.0 208.3,514.8 208.9,520.3 209.5,525.8 210.1,531.4 210.7,536.5 211.3,539.6 211.9,542.8 212.5,545.9 213.1,549.0 213.7,545.4 214.3,541.8 214.9,538.2 215.5,534.6 216.1,528.1 216.7,521.1 217.3,514.4 217.9,509.7 218.5,504.5 219.1,502.9 219.7,501.4 220.3,499.3 220.9,496.9 221.5,496.2 222.1,495.8 222.7,495.4 223.3,495.0 223.9,494.6 224.5,496.0 225.1,497.8 225.7,499.6 226.3,501.4 226.9,503.2 227.5,501.7 228.1,499.7 228.7,500.1 229.3,498.9 229.9,500.1 230.5,502.5 231.1,504.9 231.7,506.0 232.3,509.0 232.9,514.0 233.5,520.0 234.1,523.4 234.7,526.7 235.3,530.1 235.9,533.4 236.5,535.5 237.1,537.3 237.7,539.2 238.3,541.0 238.9,538.1 239.5,535.3 240.1,532.4 240.7,529.0 241.3,522.7 241.9,516.5 242.5,510.2 243.1,504.5 243.7,501.2 244.3,497.9 244.9,494.6 245.5,494.5 246.1,495.1 246.7,495.7 247.3,496.3 247.9,496.9 248.5,498.3 249.1,499.9 249.7,501.5 250.3,503.1 250.9,504.7 251.5,502.8 252.1,500.2 252.7,497.5 253.3,494.9 253.9,495.2 254.5,497.0 255.1,498.8 255.7,502.0 256.3,508.0 256.9,514.0 257.5,519.5 258.1,524.8 258.7,530.2 258.9,532.0 258.9,633.0 258.7,633.0 258.1,633.0 257.5,633.0 256.9,633.0 256.3,633.0 255.7,633.0 255.1,633.0 254.5,633.0 253.9,633.0 253.3,633.0 252.7,633.0 252.1,633.0 251.5,633.0 250.9,633.0 250.3,633.0 249.7,633.0 249.1,633.0 248.5,633.0 247.9,633.0 247.3,633.0 246.7,633.0 246.1,633.0 245.5,633.0 244.9,633.0 244.3,633.0 243.7,633.0 243.1,633.0 242.5,633.0 241.9,633.0 241.3,633.0 240.7,633.0 240.1,633.0 239.5,633.0 238.9,633.0 238.3,633.0 237.7,633.0 237.1,633.0 236.5,633.0 235.9,633.0 235.3,633.0 234.7,633.0 234.1,633.0 233.5,633.0 232.9,633.0 232.3,633.0 231.7,633.0 231.1,633.0 230.5,633.0 229.9,633.0 229.3,633.0 228.7,633.0 228.1,633.0 227.5,633.0 226.9,633.0 226.3,633.0 225.7,633.0 225.1,633.0 224.5,633.0 223.9,633.0 223.3,633.0 222.7,633.0 222.1,633.0 221.5,633.0 220.9,633.0 220.3,633.0 219.7,633.0 219.1,633.0 218.5,633.0 217.9,633.0 217.3,633.0 216.7,633.0 216.1,633.0 215.5,633.0 214.9,633.0 214.3,633.0 213.7,633.0 213.1,633.0 212.5,633.0 211.9,633.0 211.3,633.0 210.7,633.0 210.1,633.0 209.5,633.0 208.9,633.0 208.3,633.0 207.7,633.0 207.1,633.0 206.5,633.0 205.9,633.0 205.3,633.0 204.7,633.0 204.1,633.0 203.5,633.0 202.9,633.0 202.3,633.0 201.7,633.0 201.1,633.0 200.5,633.0 199.9,633.0 199.3,633.0 198.7,633.0 198.1,633.0 197.5,633.0 196.9,633.0 196.3,633.0 195.7,633.0 195.1,633.0 194.5,633.0 193.9,633.0 193.3,633.0 192.7,633.0 192.1,633.0 191.5,633.0 190.9,633.0 190.3,633.0 189.7,633.0 189.1,633.0 188.5,633.0 187.9,633.0 187.3,633.0 186.7,633.0 186.1,633.0 185.5,633.0 184.9,633.0 184.3,633.0 183.7,633.0 183.1,633.0 182.5,633.0 181.9,633.0 181.3,633.0 180.7,633.0 180.1,633.0 179.5,633.0 178.9,633.0 178.3,633.0 177.7,633.0 177.1,633.0 176.5,633.0 175.9,633.0 175.3,633.0 174.7,633.0 174.1,633.0 173.5,633.0 172.9,633.0 172.3,633.0 171.7,633.0 171.1,633.0 170.5,633.0 169.9,633.0 169.3,633.0 168.7,633.0 168.1,633.0 167.5,633.0 166.9,633.0 166.3,633.0 165.7,633.0 165.1,633.0 164.5,633.0 163.9,633.0 163.3,633.0 162.7,633.0 162.1,633.0 161.5,633.0 160.9,633.0 160.3,633.0 159.7,633.0 159.1,633.0 158.5,633.0 157.9,633.0 157.3,633.0 156.7,633.0 156.1,633.0 155.5,633.0 154.9,633.0 154.3,633.0 153.7,633.0 153.1,633.0 152.5,633.0 151.9,633.0 151.3,633.0 150.7,633.0 150.1,633.0 149.5,633.0 148.9,633.0 148.3,633.0 147.7,633.0 147.1,633.0 146.5,633.0 145.9,633.0 145.3,633.0 144.7,633.0 144.1,633.0 143.5,633.0 142.9,633.0 142.3,633.0 141.7,633.0 141.1,633.0 140.5,633.0 139.9,633.0 139.3,633.0 138.7,633.0 138.1,633.0 137.5,633.0 136.9,633.0 136.3,633.0 135.7,633.0 135.1,633.0 134.5,633.0 133.9,633.0 133.3,633.0 132.7,633.0 132.1,633.0 131.5,633.0 130.9,633.0 130.3,633.0 129.7,633.0 129.1,633.0 128.5,633.0 127.9,633.0 127.3,633.0 126.7,633.0 126.1,633.0 125.5,633.0 124.9,633.0 124.3,633.0 123.7,633.0 123.1,633.0 122.5,633.0 121.9,633.0 121.3,633.0 120.7,633.0 120.1,633.0 119.5,633.0 118.9,633.0 118.3,633.0 117.7,633.0 117.1,633.0 116.5,633.0 115.9,633.0 115.3,633.0 114.7,633.0 114.1,633.0 113.5,633.0 112.9,633.0 112.3,633.0 111.7,633.0 111.1,633.0 110.5,633.0 109.9,633.0 109.3,633.0 108.7,633.0 108.1,633.0 107.5,633.0 106.9,633.0 106.3,633.0 105.7,633.0 105.1,633.0 104.5,633.0 103.9,633.0 103.3,633.0 102.7,633.0 102.1,633.0 101.5,633.0 100.9,633.0 100.3,633.0 99.7,633.0 99.1,633.0 98.5,633.0 97.9,633.0 97.3,633.0 96.7,633.0 96.1,633.0 95.5,633.0 94.9,633.0 94.3,633.0 93.7,633.0 93.1,633.0 92.5,633.0 91.9,633.0 91.3,633.0 90.7,633.0 90.1,633.0" fill="#f59aa2"/>
<polygon points="90.1,554.6 90.7,555.7 91.3,556.8 91.9,557.9 92.5,559.0 93.1,560.0 93.7,561.1 94.3,562.1 94.9,563.1 95.5,564.1 96.1,563.5 96.7,559.7 97.3,555.8 97.9,552.0 98.5,548.5 99.1,547.0 99.7,545.4 100.3,543.8 100.9,542.4 101.5,541.2 102.1,540.0 102.7,538.8 103.3,537.6 103.9,536.6 104.5,535.7 105.1,534.8 105.7,533.9 106.3,533.0 106.9,531.0 107.5,528.9 108.1,526.8 108.7,524.7 109.3,522.6 109.9,527.8 110.5,532.9 111.1,538.1 111.7,542.7 112.3,546.3 112.9,549.8 113.5,553.4 114.1,555.6 114.7,557.2 115.3,558.7 115.9,560.2 116.5,561.7 117.1,560.8 117.7,559.5 118.3,558.1 118.9,556.7 119.5,552.9 120.1,546.6 120.7,540.4 121.3,534.2 121.9,529.6 122.5,528.3 123.1,527.1 123.7,525.9 124.3,524.6 124.9,524.2 125.5,524.5 126.1,524.8 126.7,525.1 127.3,525.4 127.9,525.7 128.5,526.0 129.1,526.3 129.7,526.6 130.3,526.9 130.9,526.1 131.5,525.1 132.1,524.0 132.7,523.0 133.3,524.4 133.9,527.1 134.5,529.8 135.1,532.5 135.7,535.1 136.3,537.5 136.9,539.9 137.5,542.4 138.1,544.8 138.7,546.7 139.3,548.0 139.9,549.3 140.5,550.6 141.1,551.5 141.7,550.1 142.3,548.7 142.9,547.4 143.5,546.0 144.1,542.2 144.7,538.3 145.3,534.5 145.9,530.6 146.5,528.4 147.1,526.6 147.7,524.7 148.3,522.8 148.9,520.9 149.5,519.8 150.1,520.0 150.7,520.3 151.3,520.5 151.9,520.8 152.5,521.0 153.1,521.3 153.7,521.9 154.3,522.5 154.9,523.0 155.5,523.6 156.1,523.5 156.7,522.0 157.3,520.5 157.9,521.5 158.5,525.0 159.1,528.6 159.7,532.1 160.3,535.7 160.9,538.9 161.5,542.0 162.1,545.2 162.7,547.8 163.3,549.4 163.9,550.9 164.5,552.5 165.1,554.0 165.7,552.3 166.3,550.6 166.9,549.0 167.5,547.3 168.1,543.5 168.7,539.7 169.3,536.0 169.9,532.2 170.5,528.4 171.1,526.0 171.7,523.6 172.3,521.2 172.9,518.8 173.5,516.9 174.1,517.7 174.7,518.4 175.3,519.1 175.9,519.9 176.5,521.2 177.1,522.6 177.7,524.0 178.3,525.4 178.9,526.8 179.5,525.0 180.1,522.6 180.7,520.2 181.3,517.8 181.9,519.6 182.5,523.5 183.1,527.4 183.7,531.8 184.3,537.2 184.9,542.6 185.5,548.0 186.1,551.1 186.7,554.2 187.3,557.4 187.9,560.5 188.5,559.8 189.1,558.2 189.7,556.8 190.3,553.6 190.9,548.8 191.5,544.0 192.1,539.4 192.7,535.5 193.3,531.7 193.9,527.8 194.5,524.0 195.1,522.8 195.7,521.6 196.3,520.4 196.9,519.2 197.5,518.0 198.1,516.1 198.7,514.2 199.3,512.2 199.9,510.3 200.5,509.6 201.1,509.1 201.7,508.6 202.3,508.2 202.9,508.5 203.5,509.2 204.1,509.9 204.7,510.6 205.3,511.3 205.9,511.9 206.5,512.5 207.1,513.8 207.7,518.9 208.3,524.0 208.9,529.1 209.5,535.5 210.1,542.1 210.7,548.7 211.3,554.0 211.9,558.0 212.5,562.0 213.1,562.7 213.7,560.0 214.3,557.3 214.9,554.1 215.5,548.6 216.1,543.2 216.7,537.7 217.3,533.4 217.9,530.3 218.5,527.2 219.1,524.1 219.7,521.6 220.3,520.4 220.9,519.2 221.5,518.0 222.1,516.8 222.7,515.8 223.3,514.8 223.9,513.8 224.5,512.8 225.1,511.9 225.7,511.5 226.3,511.1 226.9,510.7 227.5,510.3 228.1,509.9 228.7,509.3 229.3,508.7 229.9,508.1 230.5,510.0 231.1,512.4 231.7,514.8 232.3,518.8 232.9,524.5 233.5,530.2 234.1,536.4 234.7,544.8 235.3,553.2 235.9,555.5 236.5,554.7 237.1,553.9 237.7,553.1 238.3,552.3 238.9,549.2 239.5,545.0 240.1,540.8 240.7,536.7 241.3,532.8 241.9,528.9 242.5,525.0 243.1,522.8 243.7,520.7 244.3,518.5 244.9,516.4 245.5,516.4 246.1,516.9 246.7,517.4 247.3,517.8 247.9,518.6 248.5,519.6 249.1,520.6 249.7,521.5 250.3,521.2 250.9,519.5 251.5,517.8 252.1,516.1 252.7,514.7 253.3,513.8 253.9,512.9 254.5,512.0 255.1,515.9 255.7,519.8 256.3,523.7 256.9,528.3 257.5,533.3 258.1,538.3 258.7,543.3 258.9,545.0 258.9,633.0 258.7,633.0 258.1,633.0 257.5,633.0 256.9,633.0 256.3,633.0 255.7,633.0 255.1,633.0 254.5,633.0 253.9,633.0 253.3,633.0 252.7,633.0 252.1,633.0 251.5,633.0 250.9,633.0 250.3,633.0 249.7,633.0 249.1,633.0 248.5,633.0 247.9,633.0 247.3,633.0 246.7,633.0 246.1,633.0 245.5,633.0 244.9,633.0 244.3,633.0 243.7,633.0 243.1,633.0 242.5,633.0 241.9,633.0 241.3,633.0 240.7,633.0 240.1,633.0 239.5,633.0 238.9,633.0 238.3,633.0 237.7,633.0 237.1,633.0 236.5,633.0 235.9,633.0 235.3,633.0 234.7,633.0 234.1,633.0 233.5,633.0 232.9,633.0 232.3,633.0 231.7,633.0 231.1,633.0 230.5,633.0 229.9,633.0 229.3,633.0 228.7,633.0 228.1,633.0 227.5,633.0 226.9,633.0 226.3,633.0 225.7,633.0 225.1,633.0 224.5,633.0 223.9,633.0 223.3,633.0 222.7,633.0 222.1,633.0 221.5,633.0 220.9,633.0 220.3,633.0 219.7,633.0 219.1,633.0 218.5,633.0 217.9,633.0 217.3,633.0 216.7,633.0 216.1,633.0 215.5,633.0 214.9,633.0 214.3,633.0 213.7,633.0 213.1,633.0 212.5,633.0 211.9,633.0 211.3,633.0 210.7,633.0 210.1,633.0 209.5,633.0 208.9,633.0 208.3,633.0 207.7,633.0 207.1,633.0 206.5,633.0 205.9,633.0 205.3,633.0 204.7,633.0 204.1,633.0 203.5,633.0 202.9,633.0 202.3,633.0 201.7,633.0 201.1,633.0 200.5,633.0 199.9,633.0 199.3,633.0 198.7,633.0 198.1,633.0 197.5,633.0 196.9,633.0 196.3,633.0 195.7,633.0 195.1,633.0 194.5,633.0 193.9,633.0 193.3,633.0 192.7,633.0 192.1,633.0 191.5,633.0 190.9,633.0 190.3,633.0 189.7,633.0 189.1,633.0 188.5,633.0 187.9,633.0 187.3,633.0 186.7,633.0 186.1,633.0 185.5,633.0 184.9,633.0 184.3,633.0 183.7,633.0 183.1,633.0 182.5,633.0 181.9,633.0 181.3,633.0 180.7,633.0 180.1,633.0 179.5,633.0 178.9,633.0 178.3,633.0 177.7,633.0 177.1,633.0 176.5,633.0 175.9,633.0 175.3,633.0 174.7,633.0 174.1,633.0 173.5,633.0 172.9,633.0 172.3,633.0 171.7,633.0 171.1,633.0 170.5,633.0 169.9,633.0 169.3,633.0 168.7,633.0 168.1,633.0 167.5,633.0 166.9,633.0 166.3,633.0 165.7,633.0 165.1,633.0 164.5,633.0 163.9,633.0 163.3,633.0 162.7,633.0 162.1,633.0 161.5,633.0 160.9,633.0 160.3,633.0 159.7,633.0 159.1,633.0 158.5,633.0 157.9,633.0 157.3,633.0 156.7,633.0 156.1,633.0 155.5,633.0 154.9,633.0 154.3,633.0 153.7,633.0 153.1,633.0 152.5,633.0 151.9,633.0 151.3,633.0 150.7,633.0 150.1,633.0 149.5,633.0 148.9,633.0 148.3,633.0 147.7,633.0 147.1,633.0 146.5,633.0 145.9,633.0 145.3,633.0 144.7,633.0 144.1,633.0 143.5,633.0 142.9,633.0 142.3,633.0 141.7,633.0 141.1,633.0 140.5,633.0 139.9,633.0 139.3,633.0 138.7,633.0 138.1,633.0 137.5,633.0 136.9,633.0 136.3,633.0 135.7,633.0 135.1,633.0 134.5,633.0 133.9,633.0 133.3,633.0 132.7,633.0 132.1,633.0 131.5,633.0 130.9,633.0 130.3,633.0 129.7,633.0 129.1,633.0 128.5,633.0 127.9,633.0 127.3,633.0 126.7,633.0 126.1,633.0 125.5,633.0 124.9,633.0 124.3,633.0 123.7,633.0 123.1,633.0 122.5,633.0 121.9,633.0 121.3,633.0 120.7,633.0 120.1,633.0 119.5,633.0 118.9,633.0 118.3,633.0 117.7,633.0 117.1,633.0 116.5,633.0 115.9,633.0 115.3,633.0 114.7,633.0 114.1,633.0 113.5,633.0 112.9,633.0 112.3,633.0 111.7,633.0 111.1,633.0 110.5,633.0 109.9,633.0 109.3,633.0 108.7,633.0 108.1,633.0 107.5,633.0 106.9,633.0 106.3,633.0 105.7,633.0 105.1,633.0 104.5,633.0 103.9,633.0 103.3,633.0 102.7,633.0 102.1,633.0 101.5,633.0 100.9,633.0 100.3,633.0 99.7,633.0 99.1,633.0 98.5,633.0 97.9,633.0 97.3,633.0 96.7,633.0 96.1,633.0 95.5,633.0 94.9,633.0 94.3,633.0 93.7,633.0 93.1,633.0 92.5,633.0 91.9,633.0 91.3,633.0 90.7,633.0 90.1,633.0" fill="#edc948"/>
<polygon points="90.1,554.6 90.7,555.7 91.3,556.8 91.9,557.9 92.5,559.0 93.1,560.0 93.7,561.1 94.3,562.1 94.9,563.1 95.5,564.1 96.1,563.5 96.7,560.0 97.3,557.7 97.9,555.0 98.5,552.6 99.1,551.9 99.7,551.0 100.3,550.0 100.9,549.0 101.5,548.1 102.1,547.0 102.7,545.7 103.3,544.3 103.9,542.9 104.5,541.5 105.1,539.9 105.7,538.1 106.3,536.2 106.9,533.1 107.5,529.6 108.1,526.8 108.7,524.7 109.3,522.6 109.9,527.8 110.5,532.9 111.1,538.1 111.7,542.7 112.3,546.3 112.9,549.8 113.5,553.4 114.1,555.6 114.7,557.2 115.3,558.7 115.9,560.2 116.5,561.7 117.1,560.8 117.7,559.5 118.3,558.1 118.9,556.7 119.5,552.9 120.1,546.6 120.7,540.4 121.3,535.8 121.9,532.4 122.5,532.2 123.1,531.9 123.7,531.4 124.3,530.8 124.9,530.7 125.5,531.3 126.1,531.8 126.7,532.0 127.3,532.2 127.9,532.1 128.5,531.9 129.1,531.5 129.7,531.0 130.3,530.4 130.9,528.4 131.5,526.0 132.1,524.0 132.7,523.0 133.3,524.4 133.9,527.1 134.5,529.8 135.1,532.5 135.7,535.1 136.3,537.5 136.9,539.9 137.5,542.4 138.1,544.8 138.7,546.7 139.3,548.0 139.9,549.3 140.5,550.6 141.1,551.5 141.7,550.1 142.3,548.7 142.9,547.4 143.5,546.0 144.1,542.2 144.7,538.3 145.3,535.8 145.9,533.3 146.5,532.1 147.1,531.2 147.7,530.1 148.3,528.9 148.9,527.5 149.5,526.6 150.1,527.0 150.7,527.2 151.3,527.3 151.9,527.2 152.5,527.0 153.1,526.6 153.7,526.4 154.3,526.1 154.9,525.6 155.5,524.8 156.1,523.5 156.7,522.0 157.3,520.5 157.9,521.5 158.5,525.0 159.1,528.6 159.7,532.1 160.3,535.7 160.9,538.9 161.5,542.0 162.1,545.2 162.7,547.8 163.3,549.4 163.9,550.9 164.5,552.5 165.1,554.0 165.7,552.3 166.3,550.6 166.9,549.0 167.5,547.3 168.1,543.5 168.7,539.7 169.3,537.0 169.9,534.6 170.5,531.9 171.1,530.5 171.7,528.9 172.3,527.1 172.9,525.2 173.5,523.7 174.1,524.6 174.7,525.4 175.3,526.0 175.9,526.4 176.5,527.3 177.1,528.0 177.7,528.7 178.3,529.2 178.9,529.5 179.5,526.5 180.1,522.6 180.7,520.2 181.3,517.8 181.9,519.6 182.5,523.5 183.1,527.4 183.7,531.8 184.3,537.2 184.9,542.6 185.5,548.0 186.1,551.1 186.7,554.2 187.3,557.4 187.9,560.5 188.5,559.8 189.1,558.2 189.7,556.8 190.3,553.6 190.9,548.8 191.5,544.0 192.1,539.4 192.7,535.5 193.3,532.5 193.9,530.0 194.5,527.3 195.1,527.1 195.7,526.7 196.3,526.2 196.9,525.6 197.5,524.7 198.1,523.0 198.7,521.2 199.3,519.1 199.9,516.9 200.5,515.8 201.1,514.7 201.7,513.5 202.3,512.1 202.9,511.4 203.5,510.9 204.1,510.0 204.7,510.6 205.3,511.3 205.9,511.9 206.5,512.5 207.1,513.8 207.7,518.9 208.3,524.0 208.9,529.1 209.5,535.5 210.1,542.1 210.7,546.9 211.3,552.2 211.9,556.2 212.5,560.2 213.1,560.9 213.7,558.2 214.3,555.5 214.9,552.3 215.5,548.6 216.1,543.2 216.7,537.7 217.3,533.9 217.9,532.3 218.5,530.3 219.1,528.2 219.7,526.6 220.3,526.1 220.9,525.5 221.5,524.7 222.1,523.8 222.7,522.8 223.3,521.8 223.9,520.5 224.5,519.1 225.1,517.7 225.7,516.5 226.3,515.3 226.9,513.9 227.5,512.3 228.1,510.4 228.7,509.3 229.3,508.7 229.9,508.1 230.5,510.0 231.1,512.4 231.7,514.8 232.3,518.8 232.9,524.5 233.5,530.2 234.1,536.4 234.7,544.8 235.3,553.2 235.9,555.5 236.5,552.9 237.1,552.1 237.7,551.3 238.3,550.5 238.9,547.4 239.5,543.2 240.1,539.0 240.7,534.9 241.3,532.9 241.9,530.6 242.5,527.9 243.1,526.8 243.7,525.5 244.3,524.1 244.9,522.5 245.5,523.0 246.1,523.8 246.7,524.4 247.3,524.8 247.9,525.4 248.5,526.0 249.1,526.4 249.7,526.7 250.3,525.5 250.9,522.8 251.5,520.0 252.1,516.9 252.7,514.7 253.3,513.8 253.9,512.9 254.5,512.0 255.1,515.9 255.7,519.8 256.3,523.7 256.9,528.3 257.5,533.3 258.1,538.3 258.7,543.3 258.9,545.0 258.9,633.0 258.7,633.0 258.1,633.0 257.5,633.0 256.9,633.0 256.3,633.0 255.7,633.0 255.1,633.0 254.5,633.0 253.9,633.0 253.3,633.0 252.7,633.0 252.1,633.0 251.5,633.0 250.9,633.0 250.3,633.0 249.7,633.0 249.1,633.0 248.5,633.0 247.9,633.0 247.3,633.0 246.7,633.0 246.1,633.0 245.5,633.0 244.9,633.0 244.3,633.0 243.7,633.0 243.1,633.0 242.5,633.0 241.9,633.0 241.3,633.0 240.7,633.0 240.1,633.0 239.5,633.0 238.9,633.0 238.3,633.0 237.7,633.0 237.1,633.0 236.5,633.0 235.9,633.0 235.3,633.0 234.7,633.0 234.1,633.0 233.5,633.0 232.9,633.0 232.3,633.0 231.7,633.0 231.1,633.0 230.5,633.0 229.9,633.0 229.3,633.0 228.7,633.0 228.1,633.0 227.5,633.0 226.9,633.0 226.3,633.0 225.7,633.0 225.1,633.0 224.5,633.0 223.9,633.0 223.3,633.0 222.7,633.0 222.1,633.0 221.5,633.0 220.9,633.0 220.3,633.0 219.7,633.0 219.1,633.0 218.5,633.0 217.9,633.0 217.3,633.0 216.7,633.0 216.1,633.0 215.5,633.0 214.9,633.0 214.3,633.0 213.7,633.0 213.1,633.0 212.5,633.0 211.9,633.0 211.3,633.0 210.7,633.0 210.1,633.0 209.5,633.0 208.9,633.0 208.3,633.0 207.7,633.0 207.1,633.0 206.5,633.0 205.9,633.0 205.3,633.0 204.7,633.0 204.1,633.0 203.5,633.0 202.9,633.0 202.3,633.0 201.7,633.0 201.1,633.0 200.5,633.0 199.9,633.0 199.3,633.0 198.7,633.0 198.1,633.0 197.5,633.0 196.9,633.0 196.3,633.0 195.7,633.0 195.1,633.0 194.5,633.0 193.9,633.0 193.3,633.0 192.7,633.0 192.1,633.0 191.5,633.0 190.9,633.0 190.3,633.0 189.7,633.0 189.1,633.0 188.5,633.0 187.9,633.0 187.3,633.0 186.7,633.0 186.1,633.0 185.5,633.0 184.9,633.0 184.3,633.0 183.7,633.0 183.1,633.0 182.5,633.0 181.9,633.0 181.3,633.0 180.7,633.0 180.1,633.0 179.5,633.0 178.9,633.0 178.3,633.0 177.7,633.0 177.1,633.0 176.5,633.0 175.9,633.0 175.3,633.0 174.7,633.0 174.1,633.0 173.5,633.0 172.9,633.0 172.3,633.0 171.7,633.0 171.1,633.0 170.5,633.0 169.9,633.0 169.3,633.0 168.7,633.0 168.1,633.0 167.5,633.0 166.9,633.0 166.3,633.0 165.7,633.0 165.1,633.0 164.5,633.0 163.9,633.0 163.3,633.0 162.7,633.0 162.1,633.0 161.5,633.0 160.9,633.0 160.3,633.0 159.7,633.0 159.1,633.0 158.5,633.0 157.9,633.0 157.3,633.0 156.7,633.0 156.1,633.0 155.5,633.0 154.9,633.0 154.3,633.0 153.7,633.0 153.1,633.0 152.5,633.0 151.9,633.0 151.3,633.0 150.7,633.0 150.1,633.0 149.5,633.0 148.9,633.0 148.3,633.0 147.7,633.0 147.1,633.0 146.5,633.0 145.9,633.0 145.3,633.0 144.7,633.0 144.1,633.0 143.5,633.0 142.9,633.0 142.3,633.0 141.7,633.0 141.1,633.0 140.5,633.0 139.9,633.0 139.3,633.0 138.7,633.0 138.1,633.0 137.5,633.0 136.9,633.0 136.3,633.0 135.7,633.0 135.1,633.0 134.5,633.0 133.9,633.0 133.3,633.0 132.7,633.0 132.1,633.0 131.5,633.0 130.9,633.0 130.3,633.0 129.7,633.0 129.1,633.0 128.5,633.0 127.9,633.0 127.3,633.0 126.7,633.0 126.1,633.0 125.5,633.0 124.9,633.0 124.3,633.0 123.7,633.0 123.1,633.0 122.5,633.0 121.9,633.0 121.3,633.0 120.7,633.0 120.1,633.0 119.5,633.0 118.9,633.0 118.3,633.0 117.7,633.0 117.1,633.0 116.5,633.0 115.9,633.0 115.3,633.0 114.7,633.0 114.1,633.0 113.5,633.0 112.9,633.0 112.3,633.0 111.7,633.0 111.1,633.0 110.5,633.0 109.9,633.0 109.3,633.0 108.7,633.0 108.1,633.0 107.5,633.0 106.9,633.0 106.3,633.0 105.7,633.0 105.1,633.0 104.5,633.0 103.9,633.0 103.3,633.0 102.7,633.0 102.1,633.0 101.5,633.0 100.9,633.0 100.3,633.0 99.7,633.0 99.1,633.0 98.5,633.0 97.9,633.0 97.3,633.0 96.7,633.0 96.1,633.0 95.5,633.0 94.9,633.0 94.3,633.0 93.7,633.0 93.1,633.0 92.5,633.0 91.9,633.0 91.3,633.0 90.7,633.0 90.1,633.0" fill="#a0cbe8"/>
<polygon points="90.1,554.6 90.7,555.7 91.3,556.8 91.9,557.9 92.5,559.0 93.1,560.0 93.7,561.1 94.3,562.1 94.9,563.1 95.5,564.1 96.1,563.5 96.7,560.0 97.3,557.7 97.9,555.0 98.5,552.6 99.1,551.9 99.7,551.0 100.3,550.0 100.9,549.0 101.5,548.1 102.1,547.0 102.7,545.7 103.3,544.3 103.9,542.9 104.5,541.5 105.1,539.9 105.7,538.1 106.3,536.2 106.9,533.1 107.5,529.6 108.1,526.8 108.7,524.7 109.3,522.6 109.9,527.8 110.5,532.9 111.1,538.1 111.7,542.7 112.3,546.3 112.9,549.8 113.5,553.4 114.1,555.6 114.7,557.2 115.3,558.7 115.9,560.2 116.5,561.7 117.1,560.8 117.7,559.5 118.3,558.1 118.9,556.7 119.5,552.9 120.1,546.6 120.7,540.4 121.3,535.8 121.9,532.4 122.5,532.2 123.1,531.9 123.7,531.4 124.3,530.8 124.9,530.7 125.5,531.3 126.1,531.8 126.7,532.0 127.3,532.2 127.9,532.1 128.5,531.9 129.1,531.5 129.7,531.0 130.3,530.4 130.9,528.4 131.5,526.0 132.1,524.0 132.7,523.0 133.3,524.4 133.9,527.1 134.5,529.8 135.1,532.5 135.7,535.1 136.3,537.5 136.9,539.9 137.5,542.4 138.1,544.8 138.7,546.7 139.3,548.0 139.9,549.3 140.5,550.6 141.1,551.5 141.7,550.1 142.3,548.7 142.9,547.4 143.5,546.0 144.1,542.2 144.7,538.3 145.3,535.8 145.9,533.3 146.5,532.1 147.1,531.2 147.7,530.1 148.3,528.9 148.9,527.5 149.5,526.6 150.1,527.0 150.7,527.2 151.3,527.3 151.9,527.2 152.5,527.0 153.1,526.6 153.7,526.4 154.3,526.1 154.9,525.6 155.5,524.8 156.1,523.5 156.7,522.0 157.3,520.5 157.9,521.5 158.5,525.0 159.1,528.6 159.7,532.1 160.3,535.7 160.9,538.9 161.5,542.0 162.1,545.2 162.7,547.8 163.3,549.4 163.9,550.9 164.5,552.5 165.1,554.0 165.7,552.3 166.3,550.6 166.9,549.0 167.5,547.3 168.1,543.5 168.7,539.7 169.3,537.0 169.9,534.6 170.5,531.9 171.1,530.5 171.7,528.9 172.3,527.1 172.9,525.2 173.5,523.7 174.1,524.6 174.7,525.4 175.3,526.0 175.9,526.4 176.5,527.3 177.1,528.0 177.7,528.7 178.3,529.2 178.9,529.5 179.5,526.5 180.1,522.6 180.7,520.2 181.3,517.8 181.9,519.6 182.5,523.5 183.1,527.4 183.7,531.8 184.3,537.2 184.9,542.6 185.5,548.0 186.1,551.1 186.7,554.2 187.3,557.4 187.9,560.5 188.5,559.8 189.1,558.2 189.7,556.8 190.3,553.6 190.9,548.8 191.5,544.0 192.1,539.4 192.7,535.5 193.3,532.5 193.9,530.0 194.5,527.3 195.1,527.1 195.7,526.7 196.3,526.2 196.9,525.6 197.5,524.7 198.1,523.0 198.7,521.2 199.3,519.1 199.9,516.9 200.5,515.8 201.1,514.7 201.7,513.5 202.3,512.1 202.9,511.4 203.5,510.9 204.1,510.0 204.7,510.6 205.3,511.3 205.9,511.9 206.5,512.5 207.1,513.8 207.7,518.9 208.3,524.0 208.9,529.1 209.5,535.5 210.1,542.1 210.7,548.7 211.3,554.0 211.9,558.0 212.5,562.0 213.1,562.7 213.7,560.0 214.3,557.3 214.9,554.1 215.5,548.6 216.1,543.2 216.7,537.7 217.3,533.9 217.9,532.3 218.5,530.3 219.1,528.2 219.7,526.6 220.3,526.1 220.9,525.5 221.5,524.7 222.1,523.8 222.7,522.8 223.3,521.8 223.9,520.5 224.5,519.1 225.1,517.7 225.7,516.5 226.3,515.3 226.9,513.9 227.5,512.3 228.1,510.4 228.7,509.3 229.3,508.7 229.9,508.1 230.5,510.0 231.1,512.4 231.7,514.8 232.3,518.8 232.9,524.5 233.5,530.2 234.1,536.4 234.7,544.8 235.3,553.2 235.9,555.5 236.5,554.7 237.1,553.9 237.7,553.1 238.3,552.3 238.9,549.2 239.5,545.0 240.1,540.8 240.7,536.7 241.3,532.9 241.9,530.6 242.5,527.9 243.1,526.8 243.7,525.5 244.3,524.1 244.9,522.5 245.5,523.0 246.1,523.8 246.7,524.4 247.3,524.8 247.9,525.4 248.5,526.0 249.1,526.4 249.7,526.7 250.3,525.5 250.9,522.8 251.5,520.0 252.1,516.9 252.7,514.7 253.3,513.8 253.9,512.9 254.5,512.0 255.1,515.9 255.7,519.8 256.3,523.7 256.9,528.3 257.5,533.3 258.1,538.3 258.7,543.3 258.9,545.0 258.9,633.0 258.7,633.0 258.1,633.0 257.5,633.0 256.9,633.0 256.3,633.0 255.7,633.0 255.1,633.0 254.5,633.0 253.9,633.0 253.3,633.0 252.7,633.0 252.1,633.0 251.5,633.0 250.9,633.0 250.3,633.0 249.7,633.0 249.1,633.0 248.5,633.0 247.9,633.0 247.3,633.0 246.7,633.0 246.1,633.0 245.5,633.0 244.9,633.0 244.3,633.0 243.7,633.0 243.1,633.0 242.5,633.0 241.9,633.0 241.3,633.0 240.7,633.0 240.1,633.0 239.5,633.0 238.9,633.0 238.3,633.0 237.7,633.0 237.1,633.0 236.5,633.0 235.9,633.0 235.3,633.0 234.7,633.0 234.1,633.0 233.5,633.0 232.9,633.0 232.3,633.0 231.7,633.0 231.1,633.0 230.5,633.0 229.9,633.0 229.3,633.0 228.7,633.0 228.1,633.0 227.5,633.0 226.9,633.0 226.3,633.0 225.7,633.0 225.1,633.0 224.5,633.0 223.9,633.0 223.3,633.0 222.7,633.0 222.1,633.0 221.5,633.0 220.9,633.0 220.3,633.0 219.7,633.0 219.1,633.0 218.5,633.0 217.9,633.0 217.3,633.0 216.7,633.0 216.1,633.0 215.5,633.0 214.9,633.0 214.3,633.0 213.7,633.0 213.1,633.0 212.5,633.0 211.9,633.0 211.3,633.0 210.7,633.0 210.1,633.0 209.5,633.0 208.9,633.0 208.3,633.0 207.7,633.0 207.1,633.0 206.5,633.0 205.9,633.0 205.3,633.0 204.7,633.0 204.1,633.0 203.5,633.0 202.9,633.0 202.3,633.0 201.7,633.0 201.1,633.0 200.5,633.0 199.9,633.0 199.3,633.0 198.7,633.0 198.1,633.0 197.5,633.0 196.9,633.0 196.3,633.0 195.7,633.0 195.1,633.0 194.5,633.0 193.9,633.0 193.3,633.0 192.7,633.0 192.1,633.0 191.5,633.0 190.9,633.0 190.3,633.0 189.7,633.0 189.1,633.0 188.5,633.0 187.9,633.0 187.3,633.0 186.7,633.0 186.1,633.0 185.5,633.0 184.9,633.0 184.3,633.0 183.7,633.0 183.1,633.0 182.5,633.0 181.9,633.0 181.3,633.0 180.7,633.0 180.1,633.0 179.5,633.0 178.9,633.0 178.3,633.0 177.7,633.0 177.1,633.0 176.5,633.0 175.9,633.0 175.3,633.0 174.7,633.0 174.1,633.0 173.5,633.0 172.9,633.0 172.3,633.0 171.7,633.0 171.1,633.0 170.5,633.0 169.9,633.0 169.3,633.0 168.7,633.0 168.1,633.0 167.5,633.0 166.9,633.0 166.3,633.0 165.7,633.0 165.1,633.0 164.5,633.0 163.9,633.0 163.3,633.0 162.7,633.0 162.1,633.0 161.5,633.0 160.9,633.0 160.3,633.0 159.7,633.0 159.1,633.0 158.5,633.0 157.9,633.0 157.3,633.0 156.7,633.0 156.1,633.0 155.5,633.0 154.9,633.0 154.3,633.0 153.7,633.0 153.1,633.0 152.5,633.0 151.9,633.0 151.3,633.0 150.7,633.0 150.1,633.0 149.5,633.0 148.9,633.0 148.3,633.0 147.7,633.0 147.1,633.0 146.5,633.0 145.9,633.0 145.3,633.0 144.7,633.0 144.1,633.0 143.5,633.0 142.9,633.0 142.3,633.0 141.7,633.0 141.1,633.0 140.5,633.0 139.9,633.0 139.3,633.0 138.7,633.0 138.1,633.0 137.5,633.0 136.9,633.0 136.3,633.0 135.7,633.0 135.1,633.0 134.5,633.0 133.9,633.0 133.3,633.0 132.7,633.0 132.1,633.0 131.5,633.0 130.9,633.0 130.3,633.0 129.7,633.0 129.1,633.0 128.5,633.0 127.9,633.0 127.3,633.0 126.7,633.0 126.1,633.0 125.5,633.0 124.9,633.0 124.3,633.0 123.7,633.0 123.1,633.0 122.5,633.0 121.9,633.0 121.3,633.0 120.7,633.0 120.1,633.0 119.5,633.0 118.9,633.0 118.3,633.0 117.7,633.0 117.1,633.0 116.5,633.0 115.9,633.0 115.3,633.0 114.7,633.0 114.1,633.0 113.5,633.0 112.9,633.0 112.3,633.0 111.7,633.0 111.1,633.0 110.5,633.0 109.9,633.0 109.3,633.0 108.7,633.0 108.1,633.0 107.5,633.0 106.9,633.0 106.3,633.0 105.7,633.0 105.1,633.0 104.5,633.0 103.9,633.0 103.3,633.0 102.7,633.0 102.1,633.0 101.5,633.0 100.9,633.0 100.3,633.0 99.7,633.0 99.1,633.0 98.5,633.0 97.9,633.0 97.3,633.0 96.7,633.0 96.1,633.0 95.5,633.0 94.9,633.0 94.3,633.0 93.7,633.0 93.1,633.0 92.5,633.0 91.9,633.0 91.3,633.0 90.7,633.0 90.1,633.0" fill="#4e79a7"/>
<polygon points="90.1,560.4 90.7,561.5 91.3,562.6 91.9,563.7 92.5,564.8 93.1,565.9 93.7,567.6 94.3,569.6 94.9,571.7 95.5,573.7 96.1,574.5 96.7,573.1 97.3,571.8 97.9,570.4 98.5,569.0 99.1,567.8 99.7,566.6 100.3,565.4 100.9,564.5 101.5,563.9 102.1,563.4 102.7,562.8 103.3,562.2 103.9,562.2 104.5,562.5 105.1,562.8 105.7,563.1 106.3,563.4 106.9,562.9 107.5,562.3 108.1,561.6 108.7,561.0 109.3,560.4 109.9,561.3 110.5,562.2 111.1,563.1 111.7,564.0 112.3,565.0 112.9,566.5 113.5,568.0 114.1,569.5 114.7,571.0 115.3,572.3 115.9,573.1 116.5,573.9 117.1,574.7 117.7,573.7 118.3,571.7 118.9,569.7 119.5,567.7 120.1,566.2 120.7,564.7 121.3,563.2 121.9,561.7 122.5,560.4 123.1,560.1 123.7,559.8 124.3,559.5 124.9,559.2 125.5,559.0 126.1,558.9 126.7,558.8 127.3,558.7 127.9,558.6 128.5,558.5 129.1,558.4 129.7,558.3 130.3,558.4 130.9,558.5 131.5,558.6 132.1,558.7 132.7,558.8 133.3,558.9 133.9,559.0 134.5,559.4 135.1,560.0 135.7,560.7 136.3,561.3 136.9,561.9 137.5,562.5 138.1,563.1 138.7,563.6 139.3,564.2 139.9,564.8 140.5,565.4 141.1,566.0 141.7,566.6 142.3,567.2 142.9,567.7 143.5,567.5 144.1,567.3 144.7,567.1 145.3,566.4 145.9,565.2 146.5,564.0 147.1,562.8 147.7,561.6 148.3,561.7 148.9,562.5 149.5,563.2 150.1,564.0 150.7,563.4 151.3,562.8 151.9,562.3 152.5,561.7 153.1,561.2 153.7,561.1 154.3,561.0 154.9,560.9 155.5,560.7 156.1,560.6 156.7,560.5 157.3,560.4 157.9,560.7 158.5,561.0 159.1,561.3 159.7,561.7 160.3,562.0 160.9,563.5 161.5,565.0 162.1,566.5 162.7,568.0 163.3,569.5 163.9,571.3 164.5,573.1 165.1,575.0 165.7,576.8 166.3,577.6 166.9,576.4 167.5,575.1 168.1,573.9 168.7,572.3 169.3,570.5 169.9,568.7 170.5,566.9 171.1,565.1 171.7,564.2 172.3,563.4 172.9,562.6 173.5,562.1 174.1,562.9 174.7,563.7 175.3,564.4 175.9,564.2 176.5,563.0 177.1,562.2 177.7,563.4 178.3,564.6 178.9,565.9 179.5,567.1 180.1,567.5 180.7,567.0 181.3,566.5 181.9,566.1 182.5,567.5 183.1,569.3 183.7,571.1 184.3,573.7 184.9,577.1 185.5,580.6 186.1,584.0 186.7,587.4 187.3,587.3 187.9,586.4 188.5,585.5 189.1,584.6 189.7,583.3 190.3,581.1 190.9,579.0 191.5,576.8 192.1,574.7 192.7,572.9 193.3,571.1 193.9,569.3 194.5,567.5 195.1,565.8 195.7,564.6 196.3,563.4 196.9,562.2 197.5,561.0 198.1,559.9 198.7,559.3 199.3,558.7 199.9,558.1 200.5,557.5 201.1,557.0 201.7,556.8 202.3,556.6 202.9,556.4 203.5,556.3 204.1,556.9 204.7,557.9 205.3,558.8 205.9,559.8 206.5,562.4 207.1,565.3 207.7,568.2 208.3,571.0 208.9,574.3 209.5,577.8 210.1,581.2 210.7,584.7 211.3,588.1 211.9,588.3 212.5,586.8 213.1,585.3 213.7,583.8 214.3,581.7 214.9,579.1 215.5,576.5 216.1,573.9 216.7,571.3 217.3,569.1 217.9,567.3 218.5,565.5 219.1,563.7 219.7,561.9 220.3,560.6 220.9,559.8 221.5,559.0 222.1,558.2 222.7,557.4 223.3,556.8 223.9,556.5 224.5,556.2 225.1,555.9 225.7,555.6 226.3,556.1 226.9,556.6 227.5,557.1 228.1,557.7 228.7,558.6 229.3,560.6 229.9,562.5 230.5,564.4 231.1,566.5 231.7,569.4 232.3,572.2 232.9,575.1 233.5,578.0 234.1,579.8 234.7,581.6 235.3,583.3 235.9,585.1 236.5,584.3 237.1,583.0 237.7,581.7 238.3,580.4 238.9,578.4 239.5,576.0 240.1,573.6 240.7,571.2 241.3,569.1 241.9,567.3 242.5,565.5 243.1,563.7 243.7,561.9 244.3,560.6 244.9,559.8 245.5,559.0 246.1,558.2 246.7,557.4 247.3,556.9 247.9,556.6 248.5,556.4 249.1,556.3 249.7,556.6 250.3,557.0 250.9,557.3 251.5,557.7 252.1,558.2 252.7,559.2 253.3,560.2 253.9,561.2 254.5,562.2 255.1,563.4 255.7,566.1 256.3,568.8 256.9,571.5 257.5,574.1 258.1,576.6 258.7,579.2 258.9,580.0 258.9,633.0 258.7,633.0 258.1,633.0 257.5,633.0 256.9,633.0 256.3,633.0 255.7,633.0 255.1,633.0 254.5,633.0 253.9,633.0 253.3,633.0 252.7,633.0 252.1,633.0 251.5,633.0 250.9,633.0 250.3,633.0 249.7,633.0 249.1,633.0 248.5,633.0 247.9,633.0 247.3,633.0 246.7,633.0 246.1,633.0 245.5,633.0 244.9,633.0 244.3,633.0 243.7,633.0 243.1,633.0 242.5,633.0 241.9,633.0 241.3,633.0 240.7,633.0 240.1,633.0 239.5,633.0 238.9,633.0 238.3,633.0 237.7,633.0 237.1,633.0 236.5,633.0 235.9,633.0 235.3,633.0 234.7,633.0 234.1,633.0 233.5,633.0 232.9,633.0 232.3,633.0 231.7,633.0 231.1,633.0 230.5,633.0 229.9,633.0 229.3,633.0 228.7,633.0 228.1,633.0 227.5,633.0 226.9,633.0 226.3,633.0 225.7,633.0 225.1,633.0 224.5,633.0 223.9,633.0 223.3,633.0 222.7,633.0 222.1,633.0 221.5,633.0 220.9,633.0 220.3,633.0 219.7,633.0 219.1,633.0 218.5,633.0 217.9,633.0 217.3,633.0 216.7,633.0 216.1,633.0 215.5,633.0 214.9,633.0 214.3,633.0 213.7,633.0 213.1,633.0 212.5,633.0 211.9,633.0 211.3,633.0 210.7,633.0 210.1,633.0 209.5,633.0 208.9,633.0 208.3,633.0 207.7,633.0 207.1,633.0 206.5,633.0 205.9,633.0 205.3,633.0 204.7,633.0 204.1,633.0 203.5,633.0 202.9,633.0 202.3,633.0 201.7,633.0 201.1,633.0 200.5,633.0 199.9,633.0 199.3,633.0 198.7,633.0 198.1,633.0 197.5,633.0 196.9,633.0 196.3,633.0 195.7,633.0 195.1,633.0 194.5,633.0 193.9,633.0 193.3,633.0 192.7,633.0 192.1,633.0 191.5,633.0 190.9,633.0 190.3,633.0 189.7,633.0 189.1,633.0 188.5,633.0 187.9,633.0 187.3,633.0 186.7,633.0 186.1,633.0 185.5,633.0 184.9,633.0 184.3,633.0 183.7,633.0 183.1,633.0 182.5,633.0 181.9,633.0 181.3,633.0 180.7,633.0 180.1,633.0 179.5,633.0 178.9,633.0 178.3,633.0 177.7,633.0 177.1,633.0 176.5,633.0 175.9,633.0 175.3,633.0 174.7,633.0 174.1,633.0 173.5,633.0 172.9,633.0 172.3,633.0 171.7,633.0 171.1,633.0 170.5,633.0 169.9,633.0 169.3,633.0 168.7,633.0 168.1,633.0 167.5,633.0 166.9,633.0 166.3,633.0 165.7,633.0 165.1,633.0 164.5,633.0 163.9,633.0 163.3,633.0 162.7,633.0 162.1,633.0 161.5,633.0 160.9,633.0 160.3,633.0 159.7,633.0 159.1,633.0 158.5,633.0 157.9,633.0 157.3,633.0 156.7,633.0 156.1,633.0 155.5,633.0 154.9,633.0 154.3,633.0 153.7,633.0 153.1,633.0 152.5,633.0 151.9,633.0 151.3,633.0 150.7,633.0 150.1,633.0 149.5,633.0 148.9,633.0 148.3,633.0 147.7,633.0 147.1,633.0 146.5,633.0 145.9,633.0 145.3,633.0 144.7,633.0 144.1,633.0 143.5,633.0 142.9,633.0 142.3,633.0 141.7,633.0 141.1,633.0 140.5,633.0 139.9,633.0 139.3,633.0 138.7,633.0 138.1,633.0 137.5,633.0 136.9,633.0 136.3,633.0 135.7,633.0 135.1,633.0 134.5,633.0 133.9,633.0 133.3,633.0 132.7,633.0 132.1,633.0 131.5,633.0 130.9,633.0 130.3,633.0 129.7,633.0 129.1,633.0 128.5,633.0 127.9,633.0 127.3,633.0 126.7,633.0 126.1,633.0 125.5,633.0 124.9,633.0 124.3,633.0 123.7,633.0 123.1,633.0 122.5,633.0 121.9,633.0 121.3,633.0 120.7,633.0 120.1,633.0 119.5,633.0 118.9,633.0 118.3,633.0 117.7,633.0 117.1,633.0 116.5,633.0 115.9,633.0 115.3,633.0 114.7,633.0 114.1,633.0 113.5,633.0 112.9,633.0 112.3,633.0 111.7,633.0 111.1,633.0 110.5,633.0 109.9,633.0 109.3,633.0 108.7,633.0 108.1,633.0 107.5,633.0 106.9,633.0 106.3,633.0 105.7,633.0 105.1,633.0 104.5,633.0 103.9,633.0 103.3,633.0 102.7,633.0 102.1,633.0 101.5,633.0 100.9,633.0 100.3,633.0 99.7,633.0 99.1,633.0 98.5,633.0 97.9,633.0 97.3,633.0 96.7,633.0 96.1,633.0 95.5,633.0 94.9,633.0 94.3,633.0 93.7,633.0 93.1,633.0 92.5,633.0 91.9,633.0 91.3,633.0 90.7,633.0 90.1,633.0" fill="#5b5f69"/>
<rect x="90.1" y="636.5" width="168.8" height="6.5" fill="#4f9d43"/>
<rect x="90.1" y="632.4" width="168.8" height="4.1" fill="#ee8b2d"/>
<line x1="90.1" y1="632.7" x2="258.9" y2="632.7" stroke="#e6f3ea" stroke-width="0.8" stroke-dasharray="9,3,14,5,6,2,20,4"/>
<polyline points="90.1,516.8 90.7,521.8 91.3,526.7 91.9,529.7 92.5,531.7 93.1,533.6 93.7,534.1 94.3,533.8 94.9,533.5 95.5,530.3 96.1,526.5 96.7,522.7 97.3,518.8 97.9,514.9 98.5,511.6 99.1,510.9 99.7,510.3 100.3,507.8 100.9,504.9 101.5,503.1 102.1,503.3 102.7,503.4 103.3,503.6 103.9,503.6 104.5,503.5 105.1,503.4 105.7,503.3 106.3,503.2 106.9,503.0 107.5,497.7 108.1,489.9 108.7,483.4 109.3,483.6 109.9,483.9 110.5,488.5 111.1,493.8 111.7,499.2 112.3,504.8 112.9,511.6 113.5,518.3 114.1,525.0 114.7,529.7 115.3,532.4 115.9,535.0 116.5,537.6 117.1,538.6 117.7,536.0 118.3,533.5 118.9,530.1 119.5,522.2 120.1,514.3 120.7,506.3 121.3,499.7 121.9,493.7 122.5,487.8 123.1,481.8 123.7,479.3 124.3,476.7 124.9,474.2 125.5,474.2 126.1,474.7 126.7,475.2 127.3,474.0 127.9,472.5 128.5,470.9 129.1,472.6 129.7,474.3 130.3,476.0 130.9,477.6 131.5,474.5 132.1,469.0 132.7,464.9 133.3,467.8 133.9,470.6 134.5,477.2 135.1,485.5 135.7,493.8 136.3,501.7 136.9,507.3 137.5,512.9 138.1,518.4 138.7,522.1 139.3,524.0 139.9,525.8 140.5,527.7 141.1,528.7 141.7,526.0 142.3,523.3 142.9,520.6 143.5,515.4 144.1,509.0 144.7,502.7 145.3,496.3 145.9,490.8 146.5,487.4 147.1,483.9 147.7,480.5 148.3,477.0 148.9,475.4 149.5,475.6 150.1,475.8 150.7,476.0 151.3,474.3 151.9,472.2 152.5,470.2 153.1,471.1 153.7,473.5 154.3,475.9 154.9,478.3 155.5,480.7 156.1,476.0 156.7,469.9 157.3,466.7 157.9,469.6 158.5,472.4 159.1,478.8 159.7,488.7 160.3,498.7 160.9,506.7 161.5,512.7 162.1,518.6 162.7,523.1 163.3,524.5 163.9,526.0 164.5,527.5 165.1,526.2 165.7,524.5 166.3,522.7 166.9,520.4 167.5,515.6 168.1,510.8 168.7,505.9 169.3,501.1 169.9,496.3 170.5,491.5 171.1,486.7 171.7,481.8 172.3,477.0 172.9,474.8 173.5,475.1 174.1,475.5 174.7,475.9 175.3,476.4 175.9,477.0 176.5,477.6 177.1,478.2 177.7,478.8 178.3,481.3 178.9,484.3 179.5,484.1 180.1,478.0 180.7,471.8 181.3,469.6 181.9,471.3 182.5,473.1 183.1,481.8 183.7,490.6 184.3,499.3 184.9,505.8 185.5,511.7 186.1,517.6 186.7,523.1 187.3,526.2 187.9,529.3 188.5,532.5 189.1,532.0 189.7,529.9 190.3,527.7 190.9,525.5 191.5,519.5 192.1,513.5 192.7,507.4 193.3,501.4 193.9,495.9 194.5,493.0 195.1,490.1 195.7,487.2 196.3,484.2 196.9,481.7 197.5,480.8 198.1,480.0 198.7,479.2 199.3,478.1 199.9,476.9 200.5,475.8 201.1,474.6 201.7,476.2 202.3,477.8 202.9,479.3 203.5,479.3 204.1,476.1 204.7,472.9 205.3,470.5 205.9,472.3 206.5,474.0 207.1,482.5 207.7,494.2 208.3,506.0 208.9,512.3 209.5,517.5 210.1,522.7 210.7,527.3 211.3,529.4 211.9,531.5 212.5,533.6 213.1,535.7 213.7,532.6 214.3,529.6 214.9,526.5 215.5,522.8 216.1,515.6 216.7,508.3 217.3,501.1 217.9,493.8 218.5,488.2 219.1,485.6 219.7,483.1 220.3,480.3 220.9,477.3 221.5,474.4 222.1,471.4 222.7,471.5 223.3,472.3 223.9,473.0 224.5,473.7 225.1,474.5 225.7,476.7 226.3,479.3 226.9,481.8 227.5,484.4 228.1,486.9 228.7,480.7 229.3,474.5 229.9,474.1 230.5,476.7 231.1,480.4 231.7,489.6 232.3,498.8 232.9,508.0 233.5,512.4 234.1,516.7 234.7,521.1 235.3,525.5 235.9,527.0 236.5,528.4 237.1,529.9 237.7,531.3 238.3,532.8 238.9,530.3 239.5,527.8 240.1,525.3 240.7,520.2 241.3,512.7 241.9,505.2 242.5,497.7 243.1,494.1 243.7,491.3 244.3,488.5 244.9,486.3 245.5,487.1 246.1,487.9 246.7,488.7 247.3,489.7 247.9,490.9 248.5,492.1 249.1,493.3 249.7,493.8 250.3,494.1 250.9,494.5 251.5,494.8 252.1,492.2 252.7,486.7 253.3,481.1 253.9,483.4 254.5,485.8 255.1,489.1 255.7,497.2 256.3,505.3 256.9,510.9 257.5,515.3 258.1,519.7 258.7,524.0 258.9,525.5" fill="none" stroke="#2a0f14" stroke-width="1.5" stroke-linejoin="round" stroke-linecap="round"/>
<text font-size="5.4" fill="#9a9a9a" text-anchor="end" transform="translate(75.7,649.2) rotate(-90)">31</text>
<text font-size="5.4" fill="#9a9a9a" text-anchor="end" transform="translate(83.9,649.2) rotate(-90)">may</text>
<text font-size="5.4" fill="#9a9a9a" text-anchor="end" textLength="12.2" lengthAdjust="spacingAndGlyphs" transform="translate(103.9,649.2) rotate(-90)">1 jun</text>
<text font-size="5.4" fill="#9a9a9a" text-anchor="end" textLength="12.2" lengthAdjust="spacingAndGlyphs" transform="translate(128.0,649.2) rotate(-90)">2 jun</text>
<text font-size="5.4" fill="#9a9a9a" text-anchor="end" textLength="12.2" lengthAdjust="spacingAndGlyphs" transform="translate(152.1,649.2) rotate(-90)">3 jun</text>
<text font-size="5.4" fill="#9a9a9a" text-anchor="end" textLength="12.2" lengthAdjust="spacingAndGlyphs" transform="translate(176.2,649.2) rotate(-90)">4 jun</text>
<text font-size="5.4" fill="#9a9a9a" text-anchor="end" textLength="12.2" lengthAdjust="spacingAndGlyphs" transform="translate(200.3,649.2) rotate(-90)">5 jun</text>
<text font-size="5.4" fill="#9a9a9a" text-anchor="end" textLength="12.2" lengthAdjust="spacingAndGlyphs" transform="translate(224.4,649.2) rotate(-90)">6 jun</text>
<text font-size="5.4" fill="#9a9a9a" text-anchor="end" textLength="12.2" lengthAdjust="spacingAndGlyphs" transform="translate(248.6,649.2) rotate(-90)">7 jun</text>
<text font-size="5.4" fill="#9a9a9a" text-anchor="end" textLength="12.2" lengthAdjust="spacingAndGlyphs" transform="translate(272.7,649.2) rotate(-90)">8 jun</text>
<rect x="36.8" y="670.1" width="9.1" height="8.7" fill="#000000"/>
<text x="48.8" y="676.2" font-size="5" fill="#666" textLength="31.3" lengthAdjust="spacingAndGlyphs">Demanda SNI</text>
<rect x="92.1" y="670.1" width="9.1" height="8.7" fill="#b07aa1"/>
<text x="104.1" y="676.2" font-size="5" fill="#666" textLength="15.8" lengthAdjust="spacingAndGlyphs">DIESEL</text>
<rect x="92.1" y="682.2" width="9.1" height="8.7" fill="#e05a5c"/>
<text x="104.1" y="688.3" font-size="5" fill="#666" textLength="19.0" lengthAdjust="spacingAndGlyphs">BUNKER</text>
<rect x="92.1" y="694.9" width="9.1" height="8.7" fill="#b8962e"/>
<text x="104.1" y="701.0" font-size="5" fill="#666" textLength="18.2" lengthAdjust="spacingAndGlyphs">IM.MER</text>
<rect x="145.0" y="670.1" width="9.1" height="8.7" fill="#ff9da7"/>
<text x="157.0" y="676.2" font-size="5" fill="#666" textLength="18.2" lengthAdjust="spacingAndGlyphs">IM.MEX</text>
<rect x="145.0" y="682.2" width="9.1" height="8.7" fill="#a0cbe8"/>
<text x="157.0" y="688.3" font-size="5" fill="#666" textLength="17.0" lengthAdjust="spacingAndGlyphs">EÓLICA</text>
<rect x="145.0" y="694.9" width="9.1" height="8.7" fill="#edc948"/>
<text x="157.0" y="701.0" font-size="5" fill="#666" textLength="15.3" lengthAdjust="spacingAndGlyphs">SOLAR</text>
<rect x="198.9" y="670.1" width="9.1" height="8.7" fill="#4e79a7"/>
<text x="210.9" y="676.2" font-size="5" fill="#666" textLength="15.5" lengthAdjust="spacingAndGlyphs">HIDRO</text>
<rect x="198.9" y="682.2" width="9.1" height="8.7" fill="#5b5f69"/>
<text x="210.9" y="688.3" font-size="5" fill="#666" textLength="19.9" lengthAdjust="spacingAndGlyphs">CARBÓN</text>
<rect x="198.9" y="694.9" width="9.1" height="8.7" fill="#b6f7fa"/>
<text x="210.9" y="701.0" font-size="5" fill="#666" textLength="32.0" lengthAdjust="spacingAndGlyphs">GASNATURAL</text>
<rect x="252.8" y="670.1" width="9.1" height="8.7" fill="#f28e2b"/>
<text x="264.8" y="676.2" font-size="5" fill="#666" textLength="31.5" lengthAdjust="spacingAndGlyphs">GEOTÉRMICA</text>
<rect x="252.8" y="682.2" width="9.1" height="8.7" fill="#8cd17d"/>
<text x="264.8" y="688.3" font-size="5" fill="#666" textLength="18.2" lengthAdjust="spacingAndGlyphs">BIOGAS</text>
<rect x="252.8" y="694.9" width="9.1" height="8.7" fill="#4f9d43"/>
<text x="264.8" y="701.0" font-size="5" fill="#666" textLength="38.0" lengthAdjust="spacingAndGlyphs">COGENERACIÓN</text>
<text x="383.6" y="441.0" font-size="7" fill="#2b2b2b" text-anchor="middle" font-weight="bold" textLength="82.0" lengthAdjust="spacingAndGlyphs">Demanda máxima SNI</text>
<line x1="342.6" y1="442.8" x2="424.7" y2="442.8" stroke="#2b2b2b" stroke-width="0.7"/>
<text x="383.4" y="464.6" font-size="10.2" fill="#333" text-anchor="middle" font-weight="bold" textLength="63.5" lengthAdjust="spacingAndGlyphs">2,084.12 MW</text>
<text x="332.3" y="495" font-size="6.9" font-weight="bold" textLength="102" lengthAdjust="spacingAndGlyphs"><tspan fill="#e4666d">Lunes 02/06/2025</tspan><tspan fill="#999"> - </tspan><tspan fill="#444">19:00 horas</tspan></text>
<text x="383.3" y="539.7" font-size="6.7" fill="#555" text-anchor="middle" textLength="91.7" lengthAdjust="spacingAndGlyphs">Para la semana 23-2025,  la</text>
<text x="383.5" y="548.2" font-size="6.7" fill="#555" text-anchor="middle" textLength="93.7" lengthAdjust="spacingAndGlyphs">utilización de energía limpia</text>
<text x="383.3" y="556.5" font-size="6.7" fill="#555" text-anchor="middle" textLength="103.5" lengthAdjust="spacingAndGlyphs">aumentó un 4.7% respecto a la</text>
<text x="383.0" y="565.6" font-size="6.7" fill="#555" text-anchor="middle" textLength="54.8" lengthAdjust="spacingAndGlyphs">semana 22-2025.</text>
<text x="383.5" y="608.7" font-size="7" fill="#2b2b2b" text-anchor="middle" font-weight="bold" textLength="67.8" lengthAdjust="spacingAndGlyphs">Demanda máxima</text>
<line x1="349.6" y1="610.4" x2="417.4" y2="610.4" stroke="#2b2b2b" stroke-width="0.7"/>
<text x="383.4" y="617.2" font-size="7" fill="#2b2b2b" text-anchor="middle" font-weight="bold" textLength="71.2" lengthAdjust="spacingAndGlyphs">SNI + Exportaciones</text>
<line x1="347.8" y1="618.9" x2="419.0" y2="618.9" stroke="#2b2b2b" stroke-width="0.7"/>
<text x="383.0" y="651.4" font-size="11.6" fill="#333" text-anchor="middle" font-weight="bold" textLength="74.6" lengthAdjust="spacingAndGlyphs">2,084.12 MW</text>
<text x="332.3" y="678" font-size="6.9" font-weight="bold" textLength="102" lengthAdjust="spacingAndGlyphs"><tspan fill="#e4666d">Lunes 02/06/2025</tspan><tspan fill="#999"> - </tspan><tspan fill="#444">19:00 horas</tspan></text>
<text x="518.0" y="439.2" font-size="8" fill="#444" text-anchor="middle" font-weight="bold" textLength="119.0" lengthAdjust="spacingAndGlyphs">Generación de Energía Limpia</text>
<line x1="458.5" y1="441.0" x2="577.6" y2="441.0" stroke="#444" stroke-width="0.8"/>
<text x="518.1" y="450.0" font-size="8" fill="#444" text-anchor="middle" font-weight="bold" textLength="49.0" lengthAdjust="spacingAndGlyphs">(*) y el Resto</text>
<line x1="493.7" y1="451.8" x2="542.6" y2="451.8" stroke="#444" stroke-width="0.8"/>
<path d="M518.0,498.0 L518.00,461.20 A36.8,36.8 0 1 1 485.01,514.31 Z" fill="#e05a5c"/>
<path d="M518.0,498.0 L485.01,514.31 A36.8,36.8 0 0 1 518.00,461.20 Z" fill="#6a9a14"/>
<text x="465.2" y="474.7" font-size="7.6" fill="#444" textLength="20.4" lengthAdjust="spacingAndGlyphs">32.3%</text>
<text x="549.8" y="524.7" font-size="7.6" fill="#444" textLength="20.8" lengthAdjust="spacingAndGlyphs">67.7%</text>
<rect x="454.0" y="545.0" width="9.0" height="8.8" fill="#e05a5c"/>
<text x="466.2" y="552.0" font-size="4.8" fill="#666" textLength="16.8" lengthAdjust="spacingAndGlyphs">RESTO</text>
<rect x="517.0" y="545.0" width="9.0" height="8.8" fill="#6a9a14"/>
<text x="529.1" y="552.0" font-size="4.8" fill="#666" textLength="17.6" lengthAdjust="spacingAndGlyphs">LIMPIA</text>
<text x="455.9" y="570" font-size="6.6" fill="#444" textLength="124.2" lengthAdjust="spacingAndGlyphs">(*) <tspan font-weight="bold" fill="#222">Energía Limpia</tspan> se refiere a la suma</text>
<text x="518.1" y="578.3" font-size="6.6" fill="#444" text-anchor="middle" textLength="112.6" lengthAdjust="spacingAndGlyphs">de la producción renovable y gas</text>
<text x="518.0" y="587.0" font-size="6.6" fill="#444" text-anchor="middle" textLength="25.0" lengthAdjust="spacingAndGlyphs">natural.</text>
<text x="518.0" y="603.6" font-size="8" fill="#222" text-anchor="middle" font-weight="bold" textLength="119.0" lengthAdjust="spacingAndGlyphs">Generación por tipo de sector</text>
<line x1="458.5" y1="605.4" x2="577.6" y2="605.4" stroke="#222" stroke-width="0.8"/>
<path d="M518.0,665.3 L518.00,620.80 A44.5,44.5 0 0 1 535.24,624.28 Z" fill="#f28e2b"/>
<path d="M518.0,665.3 L535.24,624.28 A44.5,44.5 0 1 1 518.00,620.80 Z" fill="#4e79a7"/>
<text x="527.8" y="625.6" font-size="7.6" fill="#444" textLength="30.3" lengthAdjust="spacingAndGlyphs">PÚBLICO</text>
<text x="532.5" y="634.2" font-size="7.6" fill="#444" textLength="19.5" lengthAdjust="spacingAndGlyphs">6.34%</text>
<text x="461.8" y="691.7" font-size="7.6" fill="#444" textLength="33.2" lengthAdjust="spacingAndGlyphs">PRIVADO</text>
<text x="466.5" y="701.0" font-size="7.6" fill="#444" textLength="24.6" lengthAdjust="spacingAndGlyphs">93.66%</text>
<rect x="35.2" y="718.0" width="290.3" height="18.5" fill="#e3e3e3"/>
<rect x="330.5" y="718.0" width="252.5" height="18.5" fill="#e3e3e3"/>
<text x="37.3" y="732.0" font-size="12.2" fill="#6e6e6e" textLength="31.0" lengthAdjust="spacingAndGlyphs">Cota</text>
<text x="72.7" y="732.0" font-size="12.2" fill="#6e6e6e" textLength="39.6" lengthAdjust="spacingAndGlyphs">Chixoy</text>
<text x="333.7" y="732.0" font-size="12.2" fill="#6e6e6e" textLength="41.5" lengthAdjust="spacingAndGlyphs">Costos</text>
<text x="378.3" y="732.0" font-size="12.2" fill="#6e6e6e" textLength="53.7" lengthAdjust="spacingAndGlyphs">Variables</text>
<text x="437.7" y="732.0" font-size="12.2" fill="#6e6e6e" textLength="13.1" lengthAdjust="spacingAndGlyphs">de</text>
<text x="456.1" y="732.0" font-size="12.2" fill="#6e6e6e" textLength="72.9" lengthAdjust="spacingAndGlyphs">Generación</text>
<line x1="74.5" y1="760.0" x2="325.6" y2="760.0" stroke="#ededed" stroke-width="1"/>
<text x="70.2" y="762.7" font-size="7" fill="#8a8a8a" text-anchor="end" textLength="13.0" lengthAdjust="spacingAndGlyphs">805</text>
<line x1="74.5" y1="789.0" x2="325.6" y2="789.0" stroke="#ededed" stroke-width="1"/>
<text x="70.2" y="791.7" font-size="7" fill="#8a8a8a" text-anchor="end" textLength="13.0" lengthAdjust="spacingAndGlyphs">800</text>
<line x1="74.5" y1="818.8" x2="325.6" y2="818.8" stroke="#ededed" stroke-width="1"/>
<text x="70.2" y="821.5" font-size="7" fill="#8a8a8a" text-anchor="end" textLength="13.0" lengthAdjust="spacingAndGlyphs">795</text>
<line x1="74.5" y1="848.0" x2="325.6" y2="848.0" stroke="#ededed" stroke-width="1"/>
<text x="70.2" y="850.7" font-size="7" fill="#8a8a8a" text-anchor="end" textLength="13.0" lengthAdjust="spacingAndGlyphs">790</text>
<line x1="74.5" y1="877.0" x2="325.6" y2="877.0" stroke="#ededed" stroke-width="1"/>
<text x="70.2" y="879.7" font-size="7" fill="#8a8a8a" text-anchor="end" textLength="13.0" lengthAdjust="spacingAndGlyphs">785</text>
<line x1="74.5" y1="754.0" x2="325.6" y2="754.0" stroke="#e0e0e0" stroke-width="1"/>
<line x1="74.5" y1="740.6" x2="74.5" y2="887.0" stroke="#b4b4b4" stroke-width="1"/>
<line x1="95.5" y1="740.6" x2="95.5" y2="887.0" stroke="#b4b4b4" stroke-width="1"/>
<line x1="116.5" y1="740.6" x2="116.5" y2="887.0" stroke="#b4b4b4" stroke-width="1"/>
<line x1="137.5" y1="740.6" x2="137.5" y2="887.0" stroke="#b4b4b4" stroke-width="1"/>
<line x1="158.5" y1="740.6" x2="158.5" y2="887.0" stroke="#b4b4b4" stroke-width="1"/>
<line x1="179.5" y1="740.6" x2="179.5" y2="887.0" stroke="#b4b4b4" stroke-width="1"/>
<line x1="200.5" y1="740.6" x2="200.5" y2="887.0" stroke="#b4b4b4" stroke-width="1"/>
<line x1="220.5" y1="740.6" x2="220.5" y2="887.0" stroke="#b4b4b4" stroke-width="1"/>
<line x1="241.5" y1="740.6" x2="241.5" y2="887.0" stroke="#b4b4b4" stroke-width="1"/>
<line x1="262.5" y1="740.6" x2="262.5" y2="887.0" stroke="#b4b4b4" stroke-width="1"/>
<line x1="283.5" y1="740.6" x2="283.5" y2="887.0" stroke="#b4b4b4" stroke-width="1"/>
<line x1="304.5" y1="740.6" x2="304.5" y2="887.0" stroke="#b4b4b4" stroke-width="1"/>
<line x1="325.5" y1="740.6" x2="325.5" y2="887.0" stroke="#b4b4b4" stroke-width="1"/>
<text x="85.0" y="750.0" font-size="7" fill="#8a8a8a" text-anchor="middle">1</text>
<text x="105.9" y="750.0" font-size="7" fill="#8a8a8a" text-anchor="middle">2</text>
<text x="126.8" y="750.0" font-size="7" fill="#8a8a8a" text-anchor="middle">3</text>
<text x="147.7" y="750.0" font-size="7" fill="#8a8a8a" text-anchor="middle">4</text>
<text x="168.7" y="750.0" font-size="7" fill="#8a8a8a" text-anchor="middle">5</text>
<text x="189.6" y="750.0" font-size="7" fill="#8a8a8a" text-anchor="middle">6</text>
<text x="210.5" y="750.0" font-size="7" fill="#8a8a8a" text-anchor="middle">7</text>
<text x="231.4" y="750.0" font-size="7" fill="#8a8a8a" text-anchor="middle">8</text>
<text x="252.4" y="750.0" font-size="7" fill="#8a8a8a" text-anchor="middle">9</text>
<text x="273.3" y="750.0" font-size="7" fill="#8a8a8a" text-anchor="middle">10</text>
<text x="294.2" y="750.0" font-size="7" fill="#8a8a8a" text-anchor="middle">11</text>
<text x="315.1" y="750.0" font-size="7" fill="#8a8a8a" text-anchor="middle">12</text>
<text x="0.0" y="0.0" font-size="8.6" fill="#555" text-anchor="middle" textLength="33.0" lengthAdjust="spacingAndGlyphs" transform="translate(48.3,859.5) rotate(-90)">m.s.n.m.</text>
<polyline points="75.3,798.0 85.7,804.5 96.0,813.6 107.7,823.9 120.6,839.5 133.6,860.2 146.5,880.9 151.7,887.0" fill="none" stroke="#e3e6e3" stroke-width="1.5" stroke-linejoin="round" stroke-linecap="round"/>
<polyline points="75.3,796.7 81.8,795.4 92.1,803.2 102.5,816.1 115.4,831.7 128.4,849.8 141.3,870.5 150.4,886.0" fill="none" stroke="#dbf0cf" stroke-width="1.5" stroke-linejoin="round" stroke-linecap="round"/>
<polyline points="75.3,781.2 85.7,786.4 96.0,795.4 107.7,808.4 118.0,821.3 128.4,839.5 136.7,857.6 143.9,875.7 149.1,886.0" fill="none" stroke="#fadcc2" stroke-width="1.5" stroke-linejoin="round" stroke-linecap="round"/>
<polyline points="172.4,887.0 174.0,880.7 176.4,880.7 177.5,887.0" fill="none" stroke="#f7c3ae" stroke-width="1.5" stroke-linejoin="round" stroke-linecap="round"/>
<polyline points="187.7,887.0 189.4,877.5 191.5,876.6 192.1,887.0" fill="none" stroke="#cbf4c4" stroke-width="1.5" stroke-linejoin="round" stroke-linecap="round"/>
<polyline points="186.1,887.0 188.5,855.6 191.8,821.6 195.0,802.2 197.4,797.4 201.5,801.4 206.3,807.0 211.2,820.0 216.0,833.0 220.9,844.3 225.8,850.8 231.4,860.5 234.9,857.2 239.7,855.6 242.9,852.4 246.2,841.0 249.4,829.7 251.0,820.8 255.9,818.4 259.9,816.0 264.0,813.5 268.8,814.4" fill="none" stroke="#ebf1c6" stroke-width="1.5" stroke-linejoin="round" stroke-linecap="round"/>
<polyline points="264.0,813.5 268.8,814.4 283.4,816.8 294.7,818.4 307.7,820.8 317.4,821.6 325.5,824.1" fill="none" stroke="#fbeee6" stroke-width="1.5" stroke-linejoin="round" stroke-linecap="round"/>
<polyline points="270.5,803.8 272.9,792.5 274.5,781.2 276.9,773.1 281.8,771.5 286.6,774.7 294.7,778.7 301.2,777.1 306.1,782.8 314.1,787.7 320.6,790.9 325.5,796.6" fill="none" stroke="#f0f3cc" stroke-width="1.5" stroke-linejoin="round" stroke-linecap="round"/>
<polyline points="263.2,863.7 264.8,837.8 268.0,803.8 270.5,801.4 276.9,799.8 280.2,789.3 282.6,772.3 285.8,774.7 291.5,781.2 298.0,792.5 303.6,801.4 307.7,803.8 314.1,803.8 321.4,803.0 324.7,805.5" fill="none" stroke="#d2d9e4" stroke-width="1.5" stroke-linejoin="round" stroke-linecap="round"/>
<polyline points="209.6,887.0 212.8,875.0 216.9,867.0 220.9,871.8 225.8,878.3 230.0,878.3 234.9,882.3 239.7,887.0" fill="none" stroke="#cbf4c4" stroke-width="1.5" stroke-linejoin="round" stroke-linecap="round"/>
<polyline points="239.7,887.0 242.9,881.5 246.2,868.6 251.0,862.1 255.9,857.2 259.1,842.7 261.6,821.6 264.0,800.6 268.8,795.7 272.1,802.2 276.9,799.8 280.2,790.9 282.6,774.7 284.2,789.3 289.1,793.3 293.1,794.9 296.3,789.3 299.6,779.6 303.6,778.0 307.7,781.2 312.5,784.4 317.4,786.0 321.4,785.2 325.5,792.5" fill="none" stroke="#cbf4c4" stroke-width="1.5" stroke-linejoin="round" stroke-linecap="round"/>
<polyline points="198.3,887.0 199.0,862.0 201.5,849.1 204.7,848.3 208.8,838.6 212.0,841.9 216.0,850.8 220.9,862.1 225.8,871.8 231.4,883.1 233.0,887.0" fill="none" stroke="#f7c6b3" stroke-width="1.5" stroke-linejoin="round" stroke-linecap="round"/>
<polyline points="250.2,887.0 252.7,883.9 255.9,885.5 259.1,875.0 263.2,866.1 268.0,865.3 272.9,860.5 277.7,856.4 282.6,854.0 285.8,845.9 289.1,831.3 292.3,824.1 298.0,820.8 304.4,820.0 310.9,821.6 317.4,822.4 319.8,817.6 325.5,817.1" fill="none" stroke="#f7c6b3" stroke-width="1.5" stroke-linejoin="round" stroke-linecap="round"/>
<polyline points="75.3,783.8 81.8,781.2 92.1,783.8 102.5,790.3 114.1,798.0 121.9,808.4 131.0,821.3 136.7,827.8 140.0,829.7 144.9,837.8 149.7,849.1 154.6,860.5 157.8,875.0 162.7,886.4" fill="none" stroke="#f7b9d5" stroke-width="1.6" stroke-linejoin="round" stroke-linecap="round"/>
<polyline points="193.4,887.0 195.0,845.9 197.0,818.4 199.0,794.1 201.5,779.6 204.7,773.9 208.0,772.3 212.0,776.3 216.0,781.2 220.1,785.2 224.1,785.2 228.2,792.5 230.0,795.7 234.9,808.7 240.5,821.6 245.4,825.7 251.0,824.9 254.3,826.5 256.7,831.3 259.9,824.9 262.4,805.5 266.4,789.3 270.5,781.2 274.5,779.6 276.9,772.3 280.2,770.7 285.8,771.5 291.5,774.7 294.7,777.1 298.0,773.1 302.0,770.7 306.1,774.7 311.7,780.4 315.8,778.0 320.6,777.1 325.5,778.0" fill="none" stroke="#f7b9d5" stroke-width="1.6" stroke-linejoin="round" stroke-linecap="round"/>
<line x1="74.5" y1="770.1" x2="325.6" y2="770.1" stroke="#b3b3b3" stroke-width="1.6"/>
<text x="76.1" y="767.0" font-size="4.7" fill="#888" textLength="139.0" lengthAdjust="spacingAndGlyphs">Nivel Máximo de Operación Especial: 803.40 msnm</text>
<polyline points="75.3,776.0 78.0,775.0 81.8,774.7 86.0,776.5 90.0,778.3 92.1,779.4 98.6,782.5 103.0,786.0 107.7,787.7 114.1,790.3 118.0,795.0 121.9,800.6 126.0,806.0 131.0,813.6 134.0,819.0 136.7,826.5 140.0,837.0 144.0,848.3 147.0,852.0 150.5,855.6 153.8,867.0 157.0,878.3 160.2,886.4 160.5,887.0" fill="none" stroke="#1d5a1d" stroke-width="1.7" stroke-linejoin="round" stroke-linecap="round"/>
<text x="404.0" y="748.9" font-size="6.8" fill="#9a9a9a" text-anchor="middle">0</text>
<line x1="404.5" y1="752.0" x2="404.5" y2="787.0" stroke="#f4f4f4" stroke-width="1"/>
<line x1="404.5" y1="803.0" x2="404.5" y2="887.0" stroke="#d6d6d6" stroke-width="1"/>
<text x="442.9" y="748.9" font-size="6.8" fill="#9a9a9a" text-anchor="middle">100</text>
<line x1="442.5" y1="752.0" x2="442.5" y2="787.0" stroke="#f4f4f4" stroke-width="1"/>
<line x1="442.5" y1="803.0" x2="442.5" y2="887.0" stroke="#f4f4f4" stroke-width="1"/>
<text x="481.8" y="748.9" font-size="6.8" fill="#9a9a9a" text-anchor="middle">200</text>
<line x1="481.5" y1="752.0" x2="481.5" y2="787.0" stroke="#f4f4f4" stroke-width="1"/>
<line x1="481.5" y1="803.0" x2="481.5" y2="887.0" stroke="#f4f4f4" stroke-width="1"/>
<text x="520.7" y="748.9" font-size="6.8" fill="#9a9a9a" text-anchor="middle">300</text>
<line x1="520.5" y1="752.0" x2="520.5" y2="787.0" stroke="#f4f4f4" stroke-width="1"/>
<line x1="520.5" y1="803.0" x2="520.5" y2="887.0" stroke="#f4f4f4" stroke-width="1"/>
<text x="559.6" y="748.9" font-size="6.8" fill="#9a9a9a" text-anchor="middle">400</text>
<line x1="559.5" y1="752.0" x2="559.5" y2="787.0" stroke="#f4f4f4" stroke-width="1"/>
<line x1="559.5" y1="803.0" x2="559.5" y2="887.0" stroke="#f4f4f4" stroke-width="1"/>
<line x1="393.5" y1="751.5" x2="583.0" y2="751.5" stroke="#d2d2d2" stroke-width="1"/>
<line x1="393.5" y1="787.5" x2="583.0" y2="787.5" stroke="#d2d2d2" stroke-width="1"/>
<line x1="393.5" y1="740.6" x2="393.5" y2="798.0" stroke="#d2d2d2" stroke-width="1"/>
<line x1="583.0" y1="740.6" x2="583.0" y2="798.0" stroke="#d2d2d2" stroke-width="1"/>
<text x="333.3" y="758.7" font-size="6.8" fill="#8a8a8a" textLength="40.9" lengthAdjust="spacingAndGlyphs">Prom. Precio</text>
<text x="333.3" y="767.0" font-size="6.8" fill="#8a8a8a" textLength="24.1" lengthAdjust="spacingAndGlyphs">EXANTE</text>
<text x="333.3" y="775.5" font-size="6.8" fill="#8a8a8a" textLength="48.2" lengthAdjust="spacingAndGlyphs">[USD/MWh] en</text>
<text x="333.3" y="783.3" font-size="6.8" fill="#8a8a8a" textLength="48.2" lengthAdjust="spacingAndGlyphs">Nodos MER-GT</text>
<rect x="438.2" y="766.3" width="44.8" height="7.0" fill="#4e79a7" rx="3.5"/>
<rect x="445.4" y="760.5" width="11.7" height="17.4" fill="#8a8c91"/>
<rect x="457.1" y="760.5" width="6.5" height="17.4" fill="#cfd0d3"/>
<line x1="440.8" y1="760.5" x2="440.8" y2="777.9" stroke="#333" stroke-width="1"/>
<line x1="480.0" y1="760.5" x2="480.0" y2="777.9" stroke="#333" stroke-width="1"/>
<line x1="445.4" y1="760.5" x2="445.4" y2="777.9" stroke="#444" stroke-width="0.8"/>
<line x1="463.6" y1="760.5" x2="463.6" y2="777.9" stroke="#444" stroke-width="0.8"/>
<text x="390.3" y="812.1" font-size="5.2" fill="#8a8a8a" text-anchor="end" textLength="56.0" lengthAdjust="spacingAndGlyphs">HIDRO (REG. ANUAL)</text>
<text x="390.3" y="829.2" font-size="5.2" fill="#8a8a8a" text-anchor="end" textLength="21.0" lengthAdjust="spacingAndGlyphs">BUNKER</text>
<text x="390.3" y="846.0" font-size="5.2" fill="#8a8a8a" text-anchor="end" textLength="24.0" lengthAdjust="spacingAndGlyphs">CARBÓN</text>
<text x="390.3" y="862.1" font-size="5.2" fill="#8a8a8a" text-anchor="end" textLength="17.0" lengthAdjust="spacingAndGlyphs">DIESEL</text>
<text x="390.3" y="878.9" font-size="5.2" fill="#8a8a8a" text-anchor="end" textLength="37.0" lengthAdjust="spacingAndGlyphs">GAS NATURAL</text>
<circle cx="480.2" cy="810.2" r="2.4" fill="#4e79a7" fill-opacity="1"/>
<rect x="477.4" y="807.2" width="3.0" height="6.0" fill="#444"/>
<line x1="440.8" y1="827.3" x2="502.0" y2="827.3" stroke="#7a2a30" stroke-width="0.8"/>
<rect x="452.5" y="823.6" width="12.4" height="7.4" fill="#b3636b"/>
<rect x="464.9" y="823.6" width="9.1" height="7.4" fill="#e3a3aa"/>
<rect x="474.0" y="823.6" width="6.0" height="7.4" fill="#ead3d3"/>
<circle cx="441.5" cy="827.3" r="2.0" fill="#d6343c" fill-opacity="1"/>
<circle cx="444.5" cy="827.3" r="2.0" fill="#d6343c" fill-opacity="1"/>
<circle cx="449.0" cy="827.3" r="2.0" fill="#d6343c" fill-opacity="1"/>
<circle cx="482.6" cy="827.3" r="2.0" fill="#d6343c" fill-opacity="1"/>
<circle cx="495.5" cy="827.3" r="2.0" fill="#d6343c" fill-opacity="1"/>
<circle cx="499.4" cy="827.3" r="2.0" fill="#d6343c" fill-opacity="1"/>
<circle cx="502.0" cy="827.3" r="2.0" fill="#d6343c" fill-opacity="1"/>
<line x1="440.8" y1="823.3" x2="440.8" y2="831.3" stroke="#333" stroke-width="1"/>
<line x1="452.5" y1="823.3" x2="452.5" y2="831.3" stroke="#333" stroke-width="0.8"/>
<line x1="480.0" y1="823.3" x2="480.0" y2="831.3" stroke="#333" stroke-width="0.8"/>
<line x1="502.0" y1="823.3" x2="502.0" y2="831.3" stroke="#333" stroke-width="1"/>
<circle cx="559.5" cy="827.3" r="2.3" fill="#d6343c" fill-opacity="1"/>
<circle cx="564.2" cy="827.3" r="2.3" fill="#d6343c" fill-opacity="1"/>
<rect x="431.0" y="840.8" width="9.0" height="6.6" fill="#9a9ca1"/>
<circle cx="427.5" cy="844.1" r="2.0" fill="#3d3f45" fill-opacity="1"/>
<circle cx="430.0" cy="844.1" r="2.0" fill="#3d3f45" fill-opacity="1"/>
<circle cx="433.0" cy="844.1" r="2.0" fill="#3d3f45" fill-opacity="1"/>
<circle cx="441.0" cy="844.1" r="2.0" fill="#3d3f45" fill-opacity="1"/>
<circle cx="444.0" cy="844.1" r="2.0" fill="#3d3f45" fill-opacity="1"/>
<line x1="427.3" y1="840.5" x2="427.3" y2="847.7" stroke="#333" stroke-width="0.9"/>
<line x1="431.0" y1="840.5" x2="431.0" y2="847.7" stroke="#333" stroke-width="0.8"/>
<line x1="436.0" y1="840.5" x2="436.0" y2="847.7" stroke="#333" stroke-width="0.8"/>
<line x1="440.0" y1="840.5" x2="440.0" y2="847.7" stroke="#333" stroke-width="0.8"/>
<circle cx="476.0" cy="844.1" r="2.2" fill="#3d3f45" fill-opacity="1"/>
<circle cx="404.0" cy="860.2" r="2.0" fill="#8a8a8a" fill-opacity="1"/>
<line x1="404.0" y1="856.8" x2="404.0" y2="863.6" stroke="#333" stroke-width="0.9"/>
<circle cx="476.0" cy="860.2" r="2.2" fill="#b3b3b3" fill-opacity="1"/>
<circle cx="535.2" cy="860.2" r="2.2" fill="#b9b2aa" fill-opacity="1"/>
<circle cx="417.3" cy="877.0" r="2.0" fill="#8a6a55" fill-opacity="1"/>
<circle cx="420.8" cy="877.0" r="2.0" fill="#8a6a55" fill-opacity="1"/>
<line x1="419.0" y1="873.4" x2="419.0" y2="880.6" stroke="#333" stroke-width="0.9"/>
<rect x="442.4" y="878.9" width="140.6" height="9.0" fill="#e3e3e3"/>
<text x="512.3" y="889.2" font-size="6.8" fill="#333" text-anchor="middle" font-weight="bold" textLength="76.7" lengthAdjust="spacingAndGlyphs">Valor de agua Chixoy :</text>
</svg>
</body></html>
